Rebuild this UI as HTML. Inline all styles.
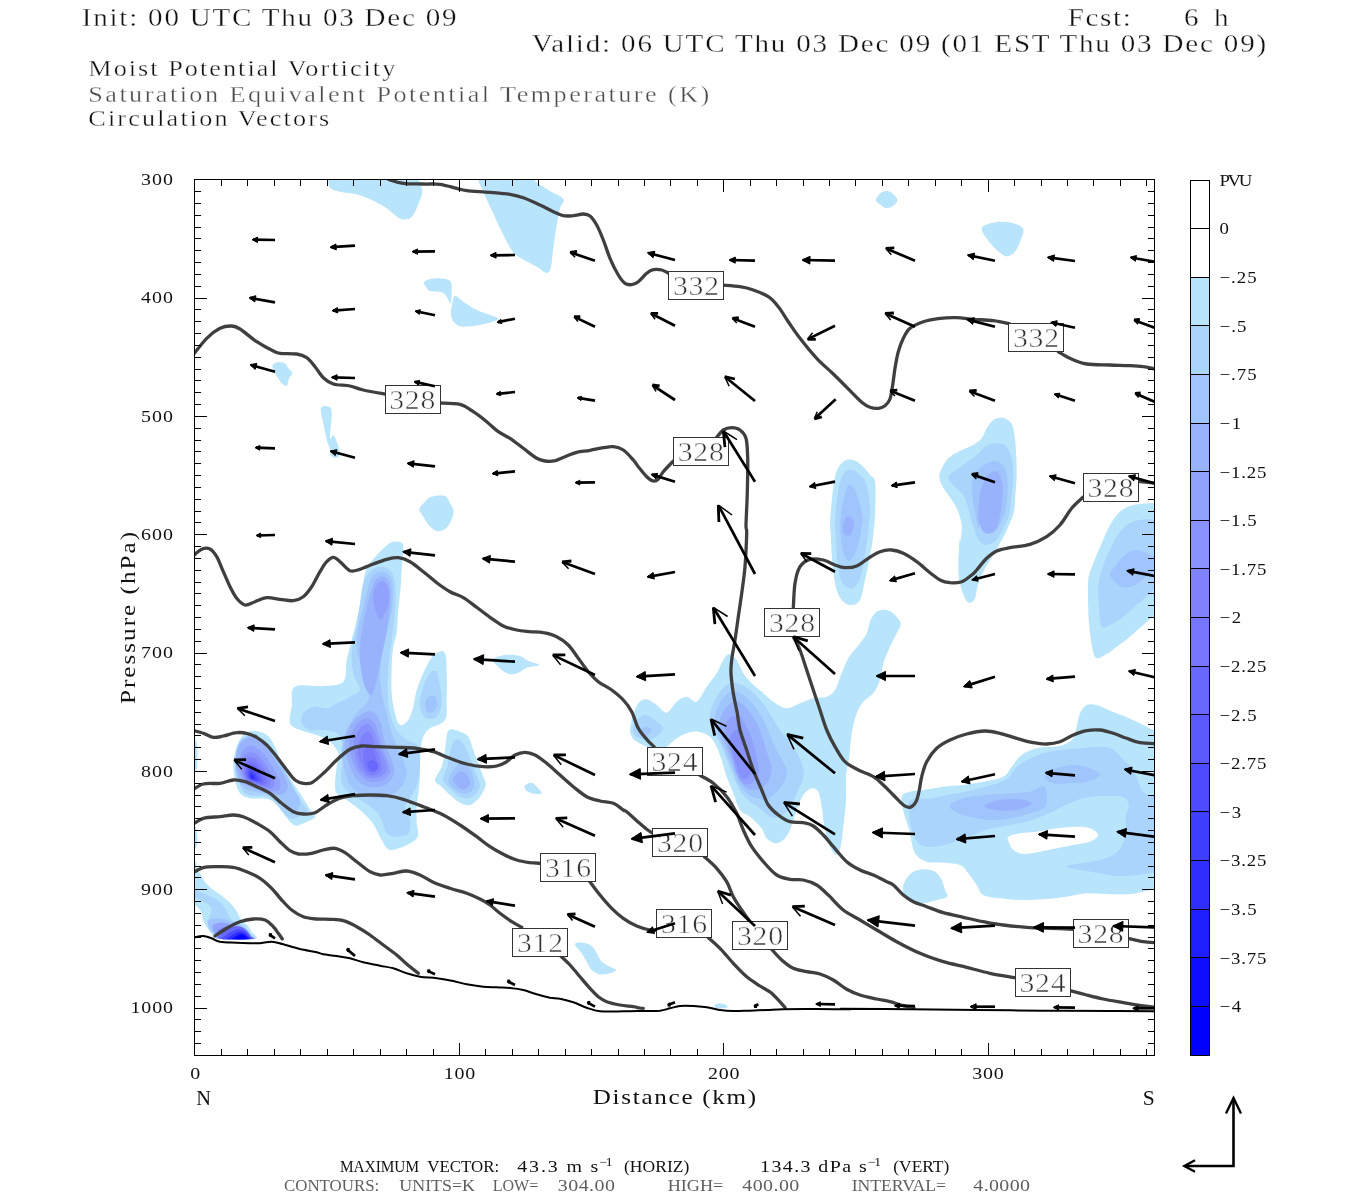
<!DOCTYPE html>
<html><head><meta charset="utf-8"><title>Cross section</title>
<style>html,body{margin:0;padding:0;background:#fff}body{width:1350px;height:1200px;overflow:hidden}svg{display:block}text{font-family:"Liberation Serif",serif;filter:grayscale(1)}.th{stroke:#fff;stroke-width:.32px}</style>
</head><body>
<svg width="1350" height="1200" viewBox="0 0 1350 1200">
<rect width="1350" height="1200" fill="#fff"/>
<defs><clipPath id="cp"><rect x="194.5" y="179.5" width="959.5" height="876"/></clipPath></defs>
<g clip-path="url(#cp)" stroke="none">
<path fill="#b8e4fc" d="M328.3 155C313.3 158.6 328.1 171.2 328.3 176.7C328.6 182.1 328.1 185.2 330 187.7C331.9 190.2 335.6 190.6 340 191.7C344.4 192.8 351.4 192.9 356.7 194.3C361.9 195.7 366.7 197.7 371.7 200C376.7 202.3 382.2 205.4 386.7 208.3C391.1 211.3 395 215.8 398.3 217.7C401.7 219.5 404.2 219.8 406.7 219.3C409.2 218.9 411.1 218.2 413.3 215C415.6 211.8 418.5 203.9 420 200C421.5 196.1 422.2 194.2 422.3 191.7C422.4 189.2 421.3 187.5 420.7 185C420 182.5 418.7 181.7 418.3 176.7C417.9 171.7 433.3 158.6 418.3 155C403.3 151.4 343.3 151.4 328.3 155Z"/>
<path fill="#b8e4fc" d="M476.7 155C467.9 158.6 476.2 170.6 477.3 176.7C478.4 182.8 480.9 186.1 483.3 191.7C485.7 197.2 488.6 203.3 491.7 210C494.7 216.7 498.3 225 501.7 231.7C505 238.3 508.9 245.8 511.7 250C514.4 254.2 514.2 253.9 518.3 256.7C522.5 259.4 532.1 264 536.7 266.7C541.3 269.3 543.7 272.4 546 272.7C548.3 272.9 549.4 272.4 550.7 268.3C551.9 264.3 552.3 255.6 553.3 248.3C554.3 241.1 555.6 231.7 556.7 225C557.8 218.3 558.9 212.7 560 208.3C561.1 204 565.3 202.1 563.3 199C561.4 195.9 553.6 193.7 548.3 190C543.1 186.3 534.7 182.5 531.7 176.7C528.6 170.8 539.2 158.6 530 155C520.8 151.4 485.4 151.4 476.7 155Z"/>
<path fill="#b8e4fc" d="M424 282.3C424.7 281.1 427.3 279.7 430 279C432.7 278.3 436.7 278 440 278.3C443.3 278.7 448.1 279.3 450 281C451.9 282.7 451.6 284.6 451.7 288.3C451.8 292.1 451.5 301.9 450.7 303.3C449.8 304.7 448.2 298.5 446.7 296.7C445.2 294.8 444.4 293.3 441.7 292.3C438.9 291.4 432.6 291.9 430 291C427.4 290.1 427 288.1 426 286.7C425 285.2 423.3 283.6 424 282.3Z"/>
<path fill="#b8e4fc" d="M455 295.7C456.8 295.4 459.7 299.3 463.3 301.7C466.9 304.1 472.2 307.8 476.7 310C481.1 312.2 486.4 313.5 490 315C493.6 316.5 499.4 317.4 498.3 319C497.2 320.6 489.2 323.1 483.3 324.3C477.5 325.6 468.1 326.8 463.3 326.7C458.6 326.5 457.1 325.3 455 323.3C452.9 321.4 451.4 318.3 451 315C450.6 311.7 451.7 306.6 452.3 303.3C453 300.1 453.2 295.9 455 295.7Z"/>
<path fill="#b8e4fc" d="M272.7 365C273.4 363.4 276.3 362.6 278.3 362.3C280.4 362.1 283.3 362.3 285 363.3C286.7 364.3 287.1 366.7 288.3 368.3C289.6 370 292.2 371.7 292.3 373.3C292.4 375 289.9 376.3 289 378.3C288.1 380.4 287.9 384.8 286.7 385.7C285.4 386.5 283.2 384.8 281.7 383.3C280.1 381.8 278.6 378.6 277.3 376.7C276.1 374.7 274.8 373.6 274 371.7C273.2 369.7 271.9 366.6 272.7 365Z"/>
<path fill="#b8e4fc" d="M321 407.7C322.1 405 328.2 406.1 330 407.3C331.8 408.6 331.7 409.8 331.7 415C331.7 420.2 329.7 435 330 438.3C330.3 441.7 332.2 434.4 333.3 435C334.4 435.6 335.6 438.6 336.7 441.7C337.8 444.7 340 450.7 340 453.3C340 456 338.2 457.3 336.7 457.7C335.1 458.1 331.8 457.2 330.7 455.7C329.6 454.1 330.6 450.7 330 448.3C329.4 446 328.4 445.8 327.3 441.7C326.2 437.5 324.4 429 323.3 423.3C322.3 417.7 319.9 410.3 321 407.7Z"/>
<path fill="#b8e4fc" d="M419.3 509.3C419.6 506.8 422.9 503.8 425 501.7C427.1 499.6 428.3 497.6 431.7 496.7C435 495.7 441.9 494.9 445 496C448.1 497.1 448.6 500.8 450 503.3C451.4 505.8 453.6 507.9 453.7 511C453.8 514.1 452.1 518.7 450.7 521.7C449.2 524.7 447.3 527.4 445 529C442.7 530.6 439.3 531.6 436.7 531C434.1 530.4 431.6 528.1 429.3 525.7C427.1 523.3 425 519.4 423.3 516.7C421.7 513.9 419.1 511.8 419.3 509.3Z"/>
<path fill="#b8e4fc" d="M876 200C876.3 198 879.3 193.7 881.7 192.3C884 190.9 887.4 190.4 890 191.7C892.6 192.9 897.1 197.5 897.3 200C897.6 202.5 893.7 205.4 891.7 206.7C889.6 207.9 886.9 208.1 885 207.7C883.1 207.3 881.5 205.6 880 204.3C878.5 203.1 875.7 202 876 200Z"/>
<path fill="#b8e4fc" d="M981.7 228.3C982.2 225.8 986.7 224.4 990 223.3C993.3 222.2 997.8 221.7 1001.7 221.7C1005.6 221.7 1009.7 222.1 1013.3 223.3C1016.9 224.6 1022.2 225.9 1023.3 229C1024.4 232.1 1021.4 237.9 1020 241.7C1018.6 245.4 1016.9 249.3 1015 251.7C1013.1 254.1 1010.3 255.4 1008.3 256C1006.4 256.6 1005.8 256.6 1003.3 255C1000.8 253.4 996.1 249.4 993.3 246.7C990.6 243.9 988.6 241.4 986.7 238.3C984.7 235.3 981.1 230.8 981.7 228.3Z"/>
<path fill="#b8e4fc" d="M830 525C830.2 519.7 830.8 509.7 831.7 501.7C832.5 493.6 833.6 482.8 835 476.7C836.4 470.6 838.1 467.8 840 465C841.9 462.2 844.2 460.7 846.7 460C849.2 459.3 852.2 459.6 855 460.7C857.8 461.8 860.8 464.3 863.3 466.7C865.8 469.1 868.1 472.5 870 475C871.9 477.5 874.1 476.1 875 481.7C875.9 487.2 875.4 501.9 875.3 508.3C875.3 514.7 875.1 514.7 874.7 520C874.2 525.3 873.6 533.3 872.7 540C871.8 546.7 870.6 553.3 869.3 560C868.1 566.7 866.6 573.3 865 580C863.4 586.7 862.2 595.8 860 600C857.8 604.2 854.4 604.7 851.7 605C848.9 605.3 845.8 604.2 843.3 601.7C840.8 599.2 838.4 595.8 836.7 590C834.9 584.2 833.7 576.1 832.7 566.7C831.7 557.2 831.1 540.3 830.7 533.3C830.2 526.4 829.8 530.3 830 525Z"/>
<path fill="#aad4fc" d="M835 525C835.2 519.7 835.8 508.9 836.7 501.7C837.5 494.4 838.6 486.7 840 481.7C841.4 476.7 843.1 473.6 845 471.7C846.9 469.7 849.2 469.4 851.7 470C854.2 470.6 857.5 472.5 860 475C862.5 477.5 865 479.4 866.7 485C868.3 490.6 869.6 502.5 870 508.3C870.4 514.2 869.8 514.7 869.3 520C868.9 525.3 868.2 533.3 867.3 540C866.4 546.7 865.2 553.6 864 560C862.8 566.4 861.7 573.8 860 578.3C858.3 582.9 856.2 585.8 854 587.3C851.8 588.8 848.9 588.7 846.7 587.3C844.4 586 842.2 583.9 840.7 579.3C839.1 574.8 838.2 567.7 837.3 560C836.5 552.3 836.1 539.2 835.7 533.3C835.3 527.5 834.8 530.3 835 525Z"/>
<path fill="#a0c4fc" d="M840 525C840.4 522.5 841.2 511.1 842.3 505C843.4 498.9 845.4 491.7 846.7 488.3C847.9 485 848.6 484.7 850 485C851.4 485.3 853.3 486.7 855 490C856.7 493.3 858.6 499.7 860 505C861.4 510.3 862.9 519.2 863.3 521.7C863.8 524.2 863.2 517.5 862.7 520C862.1 522.5 861.3 531.1 860 536.7C858.7 542.2 856.8 549.3 855 553.3C853.2 557.3 851.2 560.4 849.3 560.7C847.5 560.9 845.3 558.4 844 555C842.7 551.6 842 545.8 841.3 540C840.7 534.2 840.2 522.5 840 520C839.8 517.5 839.6 527.5 840 525Z"/>
<path fill="#98b2fc" d="M843.3 523.3C843.9 521.3 845.3 517.5 846.7 516.7C848.1 515.8 850.4 516.9 851.7 518.3C852.9 519.7 854.2 522.3 854 525C853.8 527.7 852.2 532.7 850.7 534.3C849.2 536 846.3 535.9 845 535C843.7 534.1 843.3 530.9 843 529C842.7 527.1 842.7 525.4 843.3 523.3Z"/>
<path fill="#b8e4fc" d="M939.3 476.7C939.3 473.9 940.2 471.4 941.7 468.3C943.2 465.3 945.6 461.1 948.3 458.3C951.1 455.6 954.2 453.9 958.3 451.7C962.5 449.4 969.4 447.2 973.3 445C977.2 442.8 979.4 441.1 981.7 438.3C983.9 435.6 984.7 431.4 986.7 428.3C988.6 425.3 990.8 421.8 993.3 420C995.8 418.2 998.9 417.4 1001.7 417.7C1004.4 417.9 1007.9 419.3 1010 421.7C1012.1 424 1013 426.7 1014 431.7C1015 436.7 1015.6 444.4 1016 451.7C1016.4 458.9 1016.8 467.8 1016.7 475C1016.6 482.2 1015.8 488.9 1015.3 495C1014.9 501.1 1015.2 506.4 1014 511.7C1012.8 516.9 1010.4 521.9 1008.3 526.7C1006.3 531.4 1004.2 535.3 1001.7 540C999.2 544.7 996.1 550.3 993.3 555C990.6 559.7 987.5 563.6 985 568.3C982.5 573.1 980 578.3 978.3 583.3C976.7 588.3 976.4 595.1 975 598.3C973.6 601.6 971.7 602.7 970 602.7C968.3 602.7 966.7 601.6 965 598.3C963.3 595.1 961.1 588.6 960 583.3C958.9 578.1 958.4 573.9 958.3 566.7C958.2 559.4 959.3 547.2 959.3 540C959.3 532.8 958.2 523.1 958.3 523.3C958.4 523.6 959.4 541.4 960 541.7C960.6 541.9 962.2 530.6 961.7 525C961.1 519.4 958.9 513.3 956.7 508.3C954.4 503.3 950.8 498.9 948.3 495C945.8 491.1 943.2 488.1 941.7 485C940.2 481.9 939.3 479.4 939.3 476.7Z"/>
<path fill="#aad4fc" d="M948.3 478.3C947.8 476.1 949.2 475.6 951.7 473.3C954.2 471.1 959.2 468.1 963.3 465C967.5 461.9 972.8 458.2 976.7 455C980.6 451.8 983.1 447.6 986.7 445.7C990.3 443.7 995 443.2 998.3 443.3C1001.7 443.5 1004.4 444.2 1006.7 446.7C1008.9 449.2 1010.6 453.6 1011.7 458.3C1012.8 463.1 1013.3 468.9 1013.3 475C1013.3 481.1 1012.4 488.3 1011.7 495C1010.9 501.7 1010.4 509.4 1009 515C1007.6 520.6 1005.4 524.2 1003.3 528.3C1001.3 532.5 999.4 537.2 996.7 540C993.9 542.8 989.7 545 986.7 545C983.6 545 980.6 543.3 978.3 540C976.1 536.7 974.3 527.5 973.3 525C972.3 522.5 973.2 527.8 972.3 525C971.5 522.2 969.8 513.3 968.3 508.3C966.8 503.3 965.6 498.6 963.3 495C961.1 491.4 957.5 489.4 955 486.7C952.5 483.9 948.9 480.6 948.3 478.3Z"/>
<path fill="#a0c4fc" d="M971.7 490C971.4 484.4 972.2 481.7 973.3 478.3C974.4 475 976.1 472.5 978.3 470C980.6 467.5 983.9 464.8 986.7 463.3C989.4 461.8 992.3 460.7 995 461C997.7 461.3 1000.7 462.7 1002.7 465C1004.6 467.3 1005.8 470.6 1006.7 475C1007.5 479.4 1007.9 485.6 1007.7 491.7C1007.4 497.8 1006.6 505.7 1005 511.7C1003.4 517.6 1000.6 523.7 998.3 527.3C996.1 530.9 993.9 532.9 991.7 533.3C989.4 533.8 986.8 532.5 985 530C983.2 527.5 981.8 518.6 980.7 518.3C979.6 518.1 979.3 529.4 978.3 528.3C977.4 527.2 976.1 518.1 975 511.7C973.9 505.3 971.9 495.6 971.7 490Z"/>
<path fill="#98b2fc" d="M978.3 511.7C978.4 506.9 979.2 500 980 495C980.8 490 981.7 485.3 983.3 481.7C985 478.1 987.8 475 990 473.3C992.2 471.7 994.7 470.6 996.7 471.7C998.6 472.8 1000.7 476.1 1001.7 480C1002.7 483.9 1002.9 489.2 1002.7 495C1002.4 500.8 1001 509.4 1000 515C999 520.6 998.3 525.3 996.7 528.3C995 531.4 992.2 532.8 990 533.3C987.8 533.9 985.1 533.3 983.3 531.7C981.6 530 980.2 526.7 979.3 523.3C978.5 520 978.2 516.4 978.3 511.7Z"/>
<path fill="#b8e4fc" d="M1193.3 502.7C1187.5 484.2 1168.3 502.3 1158.3 502.7C1148.3 503.1 1139.7 503.5 1133.3 505C1126.9 506.5 1123.9 508.3 1120 511.7C1116.1 515 1113.1 519.7 1110 525C1106.9 530.3 1104.4 536.9 1101.7 543.3C1098.9 549.7 1095.6 557.2 1093.3 563.3C1091.1 569.4 1089.2 572.2 1088.3 580C1087.5 587.8 1088.1 601.1 1088.3 610C1088.6 618.9 1088.9 625.6 1090 633.3C1091.1 641.1 1092.5 653.1 1095 656.7C1097.5 660.3 1101.4 656.7 1105 655C1108.6 653.3 1112.5 649.7 1116.7 646.7C1120.8 643.6 1125.6 640.3 1130 636.7C1134.4 633.1 1138.6 628.6 1143.3 625C1148.1 621.4 1150 616.9 1158.3 615C1166.7 613.1 1187.5 632.1 1193.3 613.3C1199.2 594.6 1199.2 521.1 1193.3 502.7Z"/>
<path fill="#aad4fc" d="M1193.3 519.3C1187.5 508.1 1167.2 519.2 1158.3 519.3C1149.4 519.4 1145.3 519.1 1140 520C1134.7 520.9 1130.6 522.2 1126.7 525C1122.8 527.8 1119.7 531.9 1116.7 536.7C1113.6 541.4 1110.8 547.8 1108.3 553.3C1105.8 558.9 1103.3 564.4 1101.7 570C1100 575.6 1098.7 580 1098.3 586.7C1097.9 593.3 1098.8 603.3 1099.3 610C1099.9 616.7 1099.9 624.2 1101.7 626.7C1103.4 629.2 1106.4 626.7 1110 625C1113.6 623.3 1118.9 620 1123.3 616.7C1127.8 613.3 1132.5 608.6 1136.7 605C1140.8 601.4 1144.7 597.8 1148.3 595C1151.9 592.2 1150.8 589.7 1158.3 588.3C1165.8 586.9 1187.5 598.2 1193.3 586.7C1199.2 575.2 1199.2 530.6 1193.3 519.3Z"/>
<path fill="#a0c4fc" d="M1193.3 556.7C1187.5 554.7 1166.7 557.5 1158.3 556.7C1150 555.8 1147.5 552.8 1143.3 551.7C1139.2 550.6 1136.7 549.2 1133.3 550C1130 550.8 1126.4 553.9 1123.3 556.7C1120.3 559.4 1117.2 563.6 1115 566.7C1112.8 569.7 1109.4 571.9 1110 575C1110.6 578.1 1115.3 582.9 1118.3 585C1121.4 587.1 1124.7 587.9 1128.3 587.3C1131.9 586.8 1136.4 583.9 1140 581.7C1143.6 579.4 1146.9 576.1 1150 574C1153.1 571.9 1151.1 570.3 1158.3 569.3C1165.6 568.4 1187.5 570.4 1193.3 568.3C1199.2 566.2 1199.2 558.6 1193.3 556.7Z"/>
<path fill="#b8e4fc" d="M370 563.3C372.5 559.7 376.4 555.2 380 551.7C383.6 548.2 388.1 543.8 391.7 542.3C395.3 540.8 399.7 541.4 401.7 542.7C403.6 543.9 403.3 546 403.3 550C403.3 554 402.1 560.6 401.7 566.7C401.2 572.8 401.2 579.4 400.7 586.7C400.1 593.9 399 602.2 398.3 610C397.7 617.8 397.5 627.2 396.7 633.3C395.8 639.4 394.2 641.1 393.3 646.7C392.5 652.2 391.9 658.9 391.7 666.7C391.4 674.4 391.1 685.6 391.7 693.3C392.2 701.1 393.6 708.1 395 713.3C396.4 718.6 397.8 723.9 400 725C402.2 726.1 406.1 723.1 408.3 720C410.6 716.9 411.9 711.7 413.3 706.7C414.7 701.7 415 695.6 416.7 690C418.3 684.4 421.1 678.3 423.3 673.3C425.6 668.3 427.8 663.4 430 660C432.2 656.6 434.2 653.8 436.7 652.7C439.2 651.6 443.3 649.9 445 653.3C446.7 656.8 446.4 665.6 446.7 673.3C446.9 681.1 446.9 692.2 446.7 700C446.4 707.8 447.8 715.3 445 720C442.2 724.7 433.6 725.6 430 728.3C426.4 731.1 425 732.5 423.3 736.7C421.7 740.8 420.6 746.7 420 753.3C419.4 760 420.3 770 420 776.7C419.7 783.3 418.9 788.3 418.3 793.3C417.8 798.3 416.9 801.7 416.7 806.7C416.4 811.7 416.5 818.3 416.7 823.3C416.8 828.3 419.3 833.1 417.7 836.7C416 840.3 411.3 842.8 406.7 845C402.1 847.2 394.2 850.8 390 850C385.8 849.2 383.9 843.3 381.7 840C379.4 836.7 378.3 833.1 376.7 830C375 826.9 374.4 825 371.7 821.7C368.9 818.3 364.2 813.6 360 810C355.8 806.4 350.6 802.8 346.7 800C342.8 797.2 338.6 796.1 336.7 793.3C334.7 790.6 335 787.8 335 783.3C335 778.9 336.1 771.7 336.7 766.7C337.2 761.7 339.4 757.5 338.3 753.3C337.2 749.2 333.6 744.7 330 741.7C326.4 738.6 321.7 736.9 316.7 735C311.7 733.1 304.4 731.9 300 730C295.6 728.1 291.4 727.2 290 723.3C288.6 719.4 290.8 712.8 291.7 706.7C292.5 700.6 289.7 690.1 295 686.7C300.3 683.2 315.3 686.8 323.3 686C331.4 685.2 339.4 686 343.3 681.7C347.2 677.3 345.3 666.9 346.7 660C348.1 653.1 350 646.7 351.7 640C353.3 633.3 355 627.2 356.7 620C358.3 612.8 360.3 604.4 361.7 596.7C363.1 588.9 363.6 578.9 365 573.3C366.4 567.8 367.5 566.9 370 563.3Z"/>
<path fill="#aad4fc" d="M363.3 583.3C365 578.1 367.2 574.4 370 571.7C372.8 568.9 376.7 566.9 380 566.7C383.3 566.4 387.5 567.2 390 570C392.5 572.8 394.2 576.7 395 583.3C395.8 590 395.6 600.6 395 610C394.4 619.4 392.8 630.6 391.7 640C390.6 649.4 389 657.8 388.3 666.7C387.7 675.6 387.4 685.6 387.7 693.3C387.9 701.1 388.5 707.2 390 713.3C391.5 719.4 393.9 725.6 396.7 730C399.4 734.4 402.9 736.9 406.7 740C410.4 743.1 417.3 742.2 419.3 748.3C421.3 754.4 419.7 769.2 418.7 776.7C417.7 784.2 415.6 788.3 413.3 793.3C411.1 798.3 405.6 802.2 405 806.7C404.4 811.1 409.4 815.6 410 820C410.6 824.4 410.6 830.6 408.3 833.3C406.1 836.1 400.3 836.7 396.7 836.7C393.1 836.7 389.2 836.1 386.7 833.3C384.2 830.6 383.3 823.6 381.7 820C380 816.4 379.7 814.7 376.7 811.7C373.6 808.6 367.8 804.7 363.3 801.7C358.9 798.6 353.6 796.4 350 793.3C346.4 790.3 343.1 787.8 341.7 783.3C340.3 778.9 341.1 772.2 341.7 766.7C342.2 761.1 345.8 755.6 345 750C344.2 744.4 340.3 736.7 336.7 733.3C333.1 730 327.8 730.6 323.3 730C318.9 729.4 313.6 731.1 310 730C306.4 728.9 302.8 726.1 301.7 723.3C300.6 720.6 301.4 716.1 303.3 713.3C305.3 710.6 309.4 707.5 313.3 706.7C317.2 705.8 322.8 708.9 326.7 708.3C330.6 707.8 332.8 705.3 336.7 703.3C340.6 701.4 346.1 698.9 350 696.7C353.9 694.4 359.4 693.9 360 690C360.6 686.1 354.7 680 353.3 673.3C351.9 666.7 351.1 657.8 351.7 650C352.2 642.2 355.3 634.4 356.7 626.7C358.1 618.9 358.9 610.6 360 603.3C361.1 596.1 361.7 588.6 363.3 583.3Z"/>
<path fill="#aad4fc" d="M420 700C420.4 696.1 421.7 691.1 423.3 686.7C425 682.2 427.8 675.8 430 673.3C432.2 670.8 435 669.4 436.7 671.7C438.3 673.9 439.2 681.4 440 686.7C440.8 691.9 442.2 698.3 441.7 703.3C441.1 708.3 439.2 714.2 436.7 716.7C434.2 719.2 429.3 719.4 426.7 718.3C424 717.2 421.8 713.1 420.7 710C419.6 706.9 419.6 703.9 420 700Z"/>
<path fill="#a0c4fc" d="M425 703.3C425.2 700.8 426.7 697.8 428.3 696.7C430 695.6 433.5 695.3 435 696.7C436.5 698.1 437.6 702.5 437.3 705C437.1 707.5 435 710.6 433.3 711.7C431.7 712.8 428.7 713.1 427.3 711.7C425.9 710.3 424.8 705.8 425 703.3Z"/>
<path fill="#a0c4fc" d="M368.3 586.7C370 581.4 371.1 577.5 373.3 575C375.6 572.5 379 571.7 381.7 571.7C384.3 571.7 387.5 572.5 389.3 575C391.2 577.5 392.3 580.8 392.7 586.7C393.1 592.5 392.7 602.2 391.7 610C390.7 617.8 388.2 626.7 386.7 633.3C385.2 640 383.8 643.9 382.7 650C381.6 656.1 380.2 662.8 380 670C379.8 677.2 380.6 686.1 381.7 693.3C382.8 700.6 385 706.7 386.7 713.3C388.3 720 389.4 726.7 391.7 733.3C393.9 740 397.5 746.7 400 753.3C402.5 760 406.9 767.2 406.7 773.3C406.4 779.4 402.5 785.8 398.3 790C394.2 794.2 387.5 797.5 381.7 798.3C375.8 799.2 368.6 797.2 363.3 795C358.1 792.8 353.2 789.7 350 785C346.8 780.3 345.4 772.5 344 766.7C342.6 760.8 341.2 756.1 341.7 750C342.1 743.9 344.2 736.1 346.7 730C349.2 723.9 353.1 718.3 356.7 713.3C360.3 708.3 366.4 705 368.3 700C370.3 695 369.4 688.9 368.3 683.3C367.2 677.8 363.6 672.8 361.7 666.7C359.7 660.6 357.2 653.3 356.7 646.7C356.1 640 357.2 633.3 358.3 626.7C359.4 620 361.7 613.3 363.3 606.7C365 600 366.7 591.9 368.3 586.7Z"/>
<path fill="#98b2fc" d="M371.7 590C373.2 585.4 374.1 581.6 376 579.3C377.9 577.1 381.1 576 383.3 576.7C385.6 577.3 388.1 579.4 389.3 583.3C390.6 587.2 390.8 593.9 390.7 600C390.5 606.1 389.3 613.3 388.3 620C387.4 626.7 386.3 633.3 385 640C383.7 646.7 382.1 653.3 380.7 660C379.3 666.7 378.2 674.2 376.7 680C375.2 685.8 373.6 693.9 371.7 695C369.7 696.1 366.8 691.4 365 686.7C363.2 681.9 361.5 673.3 360.7 666.7C359.8 660 359.7 653.3 360 646.7C360.3 640 361.6 633.3 362.7 626.7C363.8 620 365.2 612.8 366.7 606.7C368.2 600.6 370.1 594.6 371.7 590Z"/>
<path fill="#90a2fc" d="M374 591.7C374.8 588.8 376.7 584.3 378.3 582.7C380 581 382.3 580.7 384 581.7C385.7 582.6 387.6 585 388.3 588.3C389.1 591.7 389.2 597.5 388.7 601.7C388.1 605.8 386.4 610.4 385 613.3C383.6 616.3 381.6 619.9 380 619.3C378.4 618.8 376.4 613.2 375.3 610C374.2 606.8 373.6 603.1 373.3 600C373.1 596.9 373.2 594.6 374 591.7Z"/>
<path fill="#98b2fc" d="M345 740C345.8 734.4 348.6 727.8 351.7 723.3C354.7 718.9 359.7 715.3 363.3 713.3C366.9 711.4 370.4 710 373.3 711.7C376.2 713.3 378.7 718.1 380.7 723.3C382.6 728.6 383.2 737.2 385 743.3C386.8 749.4 390.2 755 391.7 760C393.2 765 394.8 769.3 394 773.3C393.2 777.3 390.1 781.7 386.7 784C383.2 786.3 377.8 787.6 373.3 787.3C368.9 787.1 363.6 785.4 360 782.7C356.4 779.9 353.9 775 351.7 770.7C349.4 766.3 347.8 761.8 346.7 756.7C345.6 751.6 344.2 745.6 345 740Z"/>
<path fill="#90a2fc" d="M349.3 740C350.3 735.6 353.3 728.6 356 725C358.7 721.4 362.7 718.9 365.7 718.3C368.7 717.8 371.7 718.6 374 721.7C376.3 724.7 377.7 731.7 379.3 736.7C381 741.7 382.3 746.9 384 751.7C385.7 756.4 388.4 761.3 389.3 765C390.2 768.7 390.6 771.4 389.3 774C388.1 776.6 384.9 779.4 381.7 780.7C378.4 781.9 373.6 782.6 370 781.7C366.4 780.7 362.8 778.1 360 775C357.2 771.9 355 767.2 353.3 763.3C351.7 759.4 350.7 755.6 350 751.7C349.3 747.8 348.3 744.4 349.3 740Z"/>
<path fill="#8892fc" d="M354 740.7C354.8 735.9 357.6 731.1 360 728.3C362.4 725.6 365.8 723.2 368.3 724C370.8 724.8 373.1 729.3 375 733.3C376.9 737.4 378.2 743.3 380 748.3C381.8 753.3 385 759.4 386 763.3C387 767.2 387.3 769.3 386 771.7C384.7 774 381.3 776.4 378.3 777.3C375.4 778.3 371.4 778.6 368.3 777.3C365.3 776.1 362.2 773.4 360 770C357.8 766.6 356.3 761.6 355.3 756.7C354.3 751.8 353.2 745.4 354 740.7Z"/>
<path fill="#8082fc" d="M358.3 745C359.3 741.4 361.9 735.3 364 733.3C366.1 731.4 368.7 730.8 370.7 733.3C372.7 735.8 374.2 743.3 376 748.3C377.8 753.3 380.6 759.4 381.3 763.3C382.1 767.2 381.7 769.7 380.7 771.7C379.6 773.6 377.2 774.6 375 775C372.8 775.4 369.6 775.7 367.3 774C365.1 772.3 363.2 768.2 361.7 765C360.2 761.8 358.9 758.3 358.3 755C357.8 751.7 357.4 748.6 358.3 745Z"/>
<path fill="#7676fc" d="M363.3 753.3C364.1 750.3 366.7 743.9 368.3 743.3C370 742.8 371.8 746.7 373.3 750C374.8 753.3 376.8 759.9 377.3 763.3C377.9 766.8 377.6 769.1 376.7 770.7C375.7 772.2 373.3 772.9 371.7 772.7C370 772.4 367.9 771.2 366.7 769.3C365.4 767.5 364.6 764.3 364 761.7C363.4 759 362.6 756.4 363.3 753.3Z"/>
<path fill="#6868fd" d="M367.3 763.3C367.8 761.7 370.8 759.7 372.7 760C374.5 760.3 377.8 763.2 378.3 765C378.9 766.8 377.4 769.8 376 770.7C374.6 771.5 371.4 771.2 370 770C368.6 768.8 366.9 765 367.3 763.3Z"/>
<path fill="#b8e4fc" d="M233.3 763.3C233.6 757.8 235 751.4 236.7 746.7C238.3 741.9 240.6 737.7 243.3 735C246.1 732.3 249.4 730.7 253.3 730.7C257.2 730.7 263.1 732.3 266.7 735C270.3 737.7 272.5 741.9 275 746.7C277.5 751.4 279.2 758.1 281.7 763.3C284.2 768.6 286.9 773.3 290 778.3C293.1 783.3 296.9 788.6 300 793.3C303.1 798.1 305.8 802.8 308.3 806.7C310.8 810.6 315.3 814.2 315 816.7C314.7 819.2 309.7 820.2 306.7 821.7C303.6 823.2 299.4 825.7 296.7 825.7C293.9 825.7 292.2 823.7 290 821.7C287.8 819.6 286.1 816.7 283.3 813.3C280.6 810 276.7 804.2 273.3 801.7C270 799.2 267.2 798.9 263.3 798.3C259.4 797.8 253.9 799.2 250 798.3C246.1 797.5 242.5 796.4 240 793.3C237.5 790.3 236.1 785 235 780C233.9 775 233.1 768.9 233.3 763.3Z"/>
<path fill="#aad4fc" d="M237.3 765.5C237.6 760.7 238.8 755.3 240.2 751.2C241.6 747.1 243.6 743.5 245.9 741.2C248.3 738.9 251.2 737.4 254.5 737.4C257.9 737.4 262.9 738.9 266 741.2C269.1 743.5 271 747.1 273.2 751.2C275.3 755.3 276.8 761 278.9 765.5C281.1 770.1 283.5 774.1 286.1 778.4C288.7 782.7 292.1 787.3 294.7 791.3C297.3 795.4 299.7 799.4 301.8 802.8C304 806.1 307.8 809.2 307.6 811.4C307.3 813.5 303 814.4 300.4 815.7C297.8 817 294.2 819.1 291.8 819.1C289.4 819.1 288 817.5 286.1 815.7C284.2 813.9 282.7 811.4 280.3 808.5C278 805.7 274.6 800.6 271.7 798.5C268.9 796.3 266.5 796.1 263.1 795.6C259.8 795.1 255 796.3 251.7 795.6C248.3 794.9 245.2 794 243.1 791.3C240.9 788.7 239.7 784.2 238.8 779.9C237.8 775.6 237.1 770.3 237.3 765.5Z"/>
<path fill="#a0c4fc" d="M235.6 755.7C236.1 751.2 236.9 747 238.6 743.9C240.3 740.7 242.7 738 245.7 736.7C248.7 735.5 253 735.2 256.4 736.1C259.7 737.1 262.7 739.4 265.9 742.7C269 745.9 272.2 751 275.3 755.7C278.5 760.4 281.9 765.8 284.8 771.1C287.8 776.4 290.5 782.8 293.1 787.7C295.7 792.6 299.6 797 300.2 800.7C300.8 804.5 298.6 809.2 296.7 810.2C294.7 811.2 291.1 808.6 288.4 806.7C285.6 804.7 283 800.5 280.1 798.4C277.1 796.2 274.1 794.6 270.6 793.6C267 792.6 262.7 793 258.7 792.4C254.8 791.9 250 791.7 246.9 790.1C243.7 788.5 241.7 786.1 239.8 783C237.9 779.8 236.3 775.7 235.6 771.1C234.9 766.6 235.1 760.2 235.6 755.7Z"/>
<path fill="#98b2fc" d="M236.8 753.3C237.6 749.8 238.9 745.2 241 742.7C243 740.1 246.3 738.2 249.3 737.9C252.2 737.6 255.8 739.1 258.7 740.9C261.7 742.7 264.3 745.3 267 748.6C269.8 751.9 272.6 756.1 275.3 760.4C278.1 764.8 281.6 770.3 283.6 774.7C285.7 779 287.8 783.4 287.8 786.5C287.8 789.7 285.7 792.3 283.6 793.6C281.6 794.9 278.3 794.6 275.3 794.2C272.4 793.8 269.4 792.2 265.9 791.3C262.3 790.3 257.7 789.6 254 788.3C250.3 787 246.6 785.8 243.9 783.6C241.3 781.3 239.3 777.9 238 774.7C236.7 771.4 236.2 767.6 236 764C235.8 760.4 236 756.9 236.8 753.3Z"/>
<path fill="#90a2fc" d="M239.8 758.2C240.4 755.3 241.4 751.7 243.1 749.7C244.8 747.6 247.4 746.1 249.7 745.9C252.1 745.6 254.9 746.8 257.3 748.2C259.7 749.7 261.7 751.8 264 754.4C266.2 757 268.4 760.4 270.6 763.9C272.8 767.4 275.6 771.8 277.2 775.3C278.9 778.7 280.5 782.2 280.5 784.7C280.5 787.3 278.9 789.4 277.2 790.4C275.6 791.5 273 791.2 270.6 790.9C268.2 790.6 265.9 789.3 263 788.5C260.2 787.7 256.4 787.2 253.5 786.2C250.6 785.1 247.6 784.2 245.5 782.4C243.3 780.6 241.8 777.9 240.7 775.3C239.7 772.7 239.3 769.6 239.1 766.7C239 763.9 239.1 761 239.8 758.2Z"/>
<path fill="#8892fc" d="M242.1 762.1C242.7 759.8 243.5 756.9 244.8 755.3C246.1 753.6 248.2 752.4 250.1 752.2C252 752 254.3 753 256.2 754.1C258.1 755.3 259.7 757 261.5 759C263.3 761.1 265 763.8 266.8 766.6C268.6 769.4 270.8 773 272.1 775.7C273.4 778.5 274.8 781.3 274.8 783.3C274.8 785.3 273.4 787 272.1 787.9C270.8 788.7 268.7 788.5 266.8 788.2C264.9 788 263 787 260.7 786.4C258.5 785.7 255.5 785.3 253.1 784.5C250.8 783.6 248.4 782.9 246.7 781.4C245 780 243.8 777.8 242.9 775.7C242.1 773.6 241.7 771.2 241.6 768.9C241.5 766.6 241.6 764.4 242.1 762.1Z"/>
<path fill="#8082fc" d="M243.9 765C244.4 763.1 245 760.8 246.1 759.4C247.2 758.1 248.9 757.1 250.4 757C251.9 756.8 253.8 757.6 255.3 758.5C256.9 759.4 258.2 760.8 259.6 762.5C261.1 764.2 262.5 766.4 264 768.7C265.4 771 267.2 773.8 268.3 776.1C269.3 778.3 270.4 780.6 270.4 782.3C270.4 783.9 269.3 785.3 268.3 785.9C267.2 786.6 265.5 786.5 264 786.3C262.4 786.1 260.9 785.2 259 784.7C257.2 784.2 254.8 783.8 252.9 783.2C251 782.5 249 781.9 247.6 780.7C246.2 779.5 245.2 777.8 244.5 776.1C243.9 774.4 243.6 772.4 243.5 770.5C243.4 768.7 243.5 766.8 243.9 765Z"/>
<path fill="#7676fc" d="M245.4 767.4C245.8 765.9 246.3 764 247.1 762.9C248 761.9 249.4 761.1 250.6 761C251.9 760.8 253.4 761.5 254.6 762.2C255.9 762.9 256.9 764.1 258.1 765.4C259.3 766.8 260.4 768.6 261.6 770.4C262.7 772.2 264.2 774.6 265.1 776.4C265.9 778.2 266.8 780 266.8 781.4C266.8 782.7 265.9 783.8 265.1 784.3C264.2 784.9 262.8 784.8 261.6 784.6C260.3 784.4 259.1 783.8 257.6 783.4C256.1 782.9 254.2 782.6 252.6 782.1C251.1 781.6 249.5 781.1 248.4 780.1C247.3 779.2 246.5 777.8 245.9 776.4C245.3 775 245.1 773.4 245.1 771.9C245 770.4 245.1 768.9 245.4 767.4Z"/>
<path fill="#6868fd" d="M246.7 769.6C247 768.4 247.4 766.9 248.1 766.1C248.8 765.2 249.9 764.6 250.8 764.5C251.8 764.4 253 764.9 254 765.5C255 766.1 255.8 767 256.7 768C257.6 769.1 258.5 770.5 259.5 772C260.4 773.4 261.5 775.2 262.2 776.7C262.9 778.1 263.6 779.5 263.6 780.6C263.6 781.6 262.9 782.5 262.2 782.9C261.5 783.3 260.4 783.2 259.5 783.1C258.5 783 257.5 782.5 256.3 782.1C255.1 781.8 253.6 781.6 252.4 781.1C251.2 780.7 250 780.3 249.1 779.6C248.2 778.8 247.6 777.7 247.1 776.7C246.7 775.6 246.5 774.3 246.5 773.1C246.4 772 246.5 770.8 246.7 769.6Z"/>
<path fill="#5a5afd" d="M247.9 771.6C248.1 770.7 248.4 769.5 249 768.9C249.5 768.2 250.3 767.8 251 767.7C251.8 767.6 252.7 768 253.4 768.4C254.1 768.9 254.8 769.6 255.5 770.4C256.2 771.2 256.9 772.2 257.6 773.3C258.2 774.4 259.1 775.8 259.6 776.9C260.1 778 260.7 779.1 260.7 779.9C260.7 780.6 260.1 781.3 259.6 781.6C259.1 782 258.3 781.9 257.6 781.8C256.8 781.7 256.1 781.3 255.2 781C254.3 780.8 253.1 780.6 252.2 780.3C251.3 780 250.4 779.7 249.7 779.1C249 778.5 248.6 777.7 248.2 776.9C247.9 776.1 247.8 775.1 247.7 774.2C247.7 773.3 247.7 772.4 247.9 771.6Z"/>
<path fill="#4c4cfe" d="M249 773.3C249.1 772.6 249.3 771.8 249.7 771.3C250.1 770.9 250.7 770.5 251.2 770.5C251.7 770.4 252.4 770.7 252.9 771C253.4 771.3 253.9 771.8 254.4 772.4C254.9 773 255.4 773.8 255.9 774.5C256.4 775.3 257 776.3 257.4 777.1C257.8 777.9 258.1 778.7 258.1 779.2C258.1 779.8 257.8 780.3 257.4 780.5C257 780.7 256.4 780.7 255.9 780.6C255.4 780.5 254.8 780.3 254.2 780.1C253.5 779.9 252.7 779.8 252.1 779.5C251.4 779.3 250.7 779.1 250.2 778.7C249.8 778.3 249.4 777.7 249.2 777.1C248.9 776.5 248.8 775.8 248.8 775.2C248.8 774.5 248.8 773.9 249 773.3Z"/>
<path fill="#3e3efe" d="M249.9 774.7C250 774.3 250.1 773.7 250.3 773.4C250.6 773.1 251 772.9 251.3 772.9C251.7 772.8 252.1 773 252.5 773.2C252.8 773.4 253.1 773.8 253.5 774.1C253.8 774.5 254.1 775 254.5 775.6C254.8 776.1 255.2 776.8 255.5 777.3C255.7 777.8 256 778.3 256 778.7C256 779.1 255.7 779.4 255.5 779.5C255.2 779.7 254.8 779.7 254.5 779.6C254.1 779.6 253.8 779.4 253.3 779.3C252.9 779.1 252.4 779.1 251.9 778.9C251.5 778.8 251 778.6 250.7 778.3C250.4 778.1 250.2 777.7 250 777.3C249.8 776.9 249.8 776.4 249.8 776C249.7 775.6 249.8 775.1 249.9 774.7Z"/>
<path fill="#2e2efe" d="M250.6 775.9C250.7 775.7 250.7 775.4 250.9 775.2C251 775 251.3 774.9 251.5 774.9C251.7 774.8 251.9 774.9 252.1 775.1C252.3 775.2 252.5 775.4 252.7 775.6C252.9 775.8 253.1 776.1 253.3 776.4C253.5 776.7 253.7 777.1 253.9 777.4C254 777.7 254.2 778 254.2 778.3C254.2 778.5 254 778.7 253.9 778.7C253.7 778.8 253.5 778.8 253.3 778.8C253.1 778.8 252.9 778.7 252.6 778.6C252.4 778.5 252.1 778.5 251.8 778.4C251.5 778.3 251.3 778.2 251.1 778C250.9 777.9 250.8 777.7 250.7 777.4C250.6 777.2 250.5 776.9 250.5 776.7C250.5 776.4 250.5 776.2 250.6 775.9Z"/>
<path fill="#b8e4fc" d="M190 738C191.1 732.5 195.2 739 196.5 742C197.8 745 197.5 751.3 197.5 756C197.5 760.7 197.8 766.8 196.5 770C195.2 773.2 191.1 780.3 190 775C188.9 769.7 188.9 743.5 190 738Z"/>
<path fill="#b8e4fc" d="M190 824C191 820.3 194.8 824.5 196 828C197.2 831.5 198 841.3 197 845C196 848.7 191.2 853.5 190 850C188.8 846.5 189 827.7 190 824Z"/>
<path fill="#b8e4fc" d="M435 780C435 776.7 440 771.7 441.7 766.7C443.3 761.7 444.1 755.6 445 750C445.9 744.4 446.2 736.8 447.3 733.3C448.4 729.9 449.6 729.6 451.7 729.3C453.8 729.1 457.2 730.4 460 731.7C462.8 732.9 466.1 733.6 468.3 736.7C470.6 739.7 471.7 745.6 473.3 750C475 754.4 476.7 758.9 478.3 763.3C480 767.8 482.1 773.1 483.3 776.7C484.6 780.3 486.2 781.7 485.7 785C485.1 788.3 482.6 793.3 480 796.7C477.4 800 473.3 804 470 805C466.7 806 463.3 804.3 460 802.7C456.7 801 453.1 797.7 450 795C446.9 792.3 444.2 789.2 441.7 786.7C439.2 784.2 435 783.3 435 780Z"/>
<path fill="#aad4fc" d="M443.3 780C442.6 776.1 446.1 771.7 447.3 766.7C448.6 761.7 449.4 754.4 450.7 750C451.9 745.6 453.2 741.4 455 740C456.8 738.6 459.4 739.4 461.7 741.7C463.9 743.9 466.4 749.2 468.3 753.3C470.3 757.5 471.7 762.2 473.3 766.7C475 771.1 477.2 776.7 478.3 780C479.4 783.3 480.6 784.2 480 786.7C479.4 789.2 476.9 793.1 475 795C473.1 796.9 470.8 798.1 468.3 798.3C465.8 798.6 462.8 798.1 460 796.7C457.2 795.3 454.4 792.8 451.7 790C448.9 787.2 444.1 783.9 443.3 780Z"/>
<path fill="#a0c4fc" d="M448.3 780C448.6 777.2 451.4 772.8 453.3 770C455.3 767.2 457.5 763.9 460 763.3C462.5 762.8 466.1 764.4 468.3 766.7C470.6 768.9 472.4 773.3 473.3 776.7C474.3 780 474.8 783.9 474 786.7C473.2 789.4 470.7 792.3 468.3 793.3C466 794.3 462.8 793.8 460 792.7C457.2 791.6 453.6 788.8 451.7 786.7C449.7 784.6 448.1 782.8 448.3 780Z"/>
<path fill="#98b2fc" d="M453.3 779.3C453.6 776.7 457.7 772.4 460 771.7C462.3 770.9 465.7 773.1 467.3 775C469 776.9 470.4 780.9 470 783.3C469.6 785.7 466.9 788.7 465 789.3C463.1 790 460.3 789 458.3 787.3C456.4 785.7 453.1 781.9 453.3 779.3Z"/>
<path fill="#b8e4fc" d="M491.7 660C492.2 658.5 496.9 656.9 500 656C503.1 655.1 506.7 654.7 510 654.7C513.3 654.7 516.9 654.9 520 656C523.1 657.1 525.2 659.5 528.3 661C531.5 662.5 539.3 663.9 539 665C538.7 666.1 530.1 666.4 526.7 667.7C523.2 668.9 521.1 671.6 518.3 672.7C515.6 673.8 512.8 674.8 510 674.3C507.2 673.9 503.9 671.6 501.7 670C499.4 668.4 498.3 666.7 496.7 665C495 663.3 491.1 661.5 491.7 660Z"/>
<path fill="#b8e4fc" d="M524.3 786.7C524.6 785.1 528.2 782.9 530 782.7C531.8 782.4 533.1 783.3 535 785C536.9 786.7 541.4 791.2 541.7 792.7C541.9 794.2 538.9 794.1 536.7 794C534.4 793.9 530.4 793.2 528.3 792C526.3 790.8 524.1 788.2 524.3 786.7Z"/>
<path fill="#b8e4fc" d="M630 730C630.2 726.7 631.3 721.1 632.7 716.7C634.1 712.2 636 706.2 638.3 703.3C640.7 700.4 643.6 699.1 646.7 699.3C649.7 699.6 653.3 702.8 656.7 705C660 707.2 663.3 713.2 666.7 712.7C670 712.1 673.3 704.3 676.7 701.7C680 699 683.3 696.7 686.7 696.7C690 696.7 693.3 703.3 696.7 701.7C700 700 703.3 691.4 706.7 686.7C710 681.9 713.9 677.8 716.7 673.3C719.4 668.9 721.2 663.2 723.3 660C725.4 656.8 727.1 654 729.3 654C731.6 654 734.3 656.8 736.7 660C739 663.2 740.8 669.4 743.3 673.3C745.8 677.2 748.6 680.3 751.7 683.3C754.7 686.4 758.1 688.6 761.7 691.7C765.3 694.7 769.2 698.9 773.3 701.7C777.5 704.4 782.2 708.1 786.7 708.3C791.1 708.6 795.6 705 800 703.3C804.4 701.7 808.9 699.4 813.3 698.3C817.8 697.2 823.1 698.1 826.7 696.7C830.3 695.3 832.5 693.9 835 690C837.5 686.1 839.4 678.6 841.7 673.3C843.9 668.1 845.3 663.3 848.3 658.3C851.4 653.3 856.9 647.5 860 643.3C863.1 639.2 864.9 637.2 866.7 633.3C868.4 629.4 869 623.6 870.7 620C872.3 616.4 874 613.3 876.7 611.7C879.3 610 883.6 609.4 886.7 610C889.7 610.6 892.7 612.7 895 615C897.3 617.3 900.4 620.9 900.7 624C900.9 627.1 898.4 629.6 896.7 633.3C894.9 637.1 892.2 641.7 890 646.7C887.8 651.7 885 657.8 883.3 663.3C881.7 668.9 881.7 675 880 680C878.3 685 876.1 689.7 873.3 693.3C870.6 696.9 866.1 698.3 863.3 701.7C860.6 705 858.6 708.1 856.7 713.3C854.7 718.6 852.9 726.1 851.7 733.3C850.4 740.6 850.3 749.4 849.3 756.7C848.4 763.9 846.6 769.4 846 776.7C845.4 783.9 846.4 791.7 846 800C845.6 808.3 844.2 818.9 843.3 826.7C842.4 834.4 841.8 841.9 840.7 846.7C839.6 851.4 838.4 855 836.7 855C834.9 855 831.9 850.8 830 846.7C828.1 842.5 826.4 836.7 825 830C823.6 823.3 822.8 813.1 821.7 806.7C820.6 800.3 820 794.7 818.3 791.7C816.7 788.6 814.2 787.8 811.7 788.3C809.2 788.9 805.8 791.4 803.3 795C800.8 798.6 798.9 804.2 796.7 810C794.4 815.8 792.2 825 790 830C787.8 835 785.8 837.8 783.3 840C780.8 842.2 777.8 843.6 775 843.3C772.2 843.1 768.9 840.8 766.7 838.3C764.4 835.8 764.4 831.9 761.7 828.3C758.9 824.7 753.6 819.7 750 816.7C746.4 813.6 742.8 813.9 740 810C737.2 806.1 735.6 798.9 733.3 793.3C731.1 787.8 728.6 782.2 726.7 776.7C724.7 771.1 723.3 765 721.7 760C720 755 718.6 750.6 716.7 746.7C714.7 742.8 713.1 739.2 710 736.7C706.9 734.2 702.2 732.2 698.3 731.7C694.4 731.1 690.3 732.2 686.7 733.3C683.1 734.4 680 736.1 676.7 738.3C673.3 740.6 670 744.7 666.7 746.7C663.3 748.6 660 750 656.7 750C653.3 750 650 748.1 646.7 746.7C643.3 745.3 639.2 743.3 636.7 741.7C634.2 740 632.8 738.6 631.7 736.7C630.6 734.7 629.8 733.3 630 730Z"/>
<path fill="#aad4fc" d="M710 713.3C711 708.9 713.9 701.4 716.7 696.7C719.4 691.9 723.3 687.2 726.7 685C730 682.8 732.8 682.5 736.7 683.3C740.6 684.2 745.8 686.9 750 690C754.2 693.1 758.1 697.2 761.7 701.7C765.3 706.1 768.6 711.9 771.7 716.7C774.7 721.4 776.4 725 780 730C783.6 735 789.7 741.1 793.3 746.7C796.9 752.2 800 758.3 801.7 763.3C803.3 768.3 804.2 771.7 803.3 776.7C802.5 781.7 798.9 788.3 796.7 793.3C794.4 798.3 792.8 802.8 790 806.7C787.2 810.6 783.3 815 780 816.7C776.7 818.3 773.3 818.1 770 816.7C766.7 815.3 763.3 810.8 760 808.3C756.7 805.8 753.1 804.2 750 801.7C746.9 799.2 744.2 796.9 741.7 793.3C739.2 789.7 737.2 785 735 780C732.8 775 730.6 768.9 728.3 763.3C726.1 757.8 723.9 751.7 721.7 746.7C719.4 741.7 716.8 737.2 715 733.3C713.2 729.4 711.5 726.7 710.7 723.3C709.8 720 709 717.8 710 713.3Z"/>
<path fill="#a0c4fc" d="M715 716.7C715.6 711.1 718.9 704.2 721.7 700C724.4 695.8 728.1 692.5 731.7 691.7C735.3 690.8 739.4 692.5 743.3 695C747.2 697.5 751.4 701.9 755 706.7C758.6 711.4 762.2 717.8 765 723.3C767.8 728.9 769.2 734.4 771.7 740C774.2 745.6 777.5 751.7 780 756.7C782.5 761.7 786.1 765.6 786.7 770C787.2 774.4 785.3 779.4 783.3 783.3C781.4 787.2 777.8 790.6 775 793.3C772.2 796.1 769.7 799.2 766.7 800C763.6 800.8 760 799.4 756.7 798.3C753.3 797.2 749.7 795.8 746.7 793.3C743.6 790.8 740.8 787.8 738.3 783.3C735.8 778.9 733.9 772.2 731.7 766.7C729.4 761.1 727.2 755.6 725 750C722.8 744.4 720 738.9 718.3 733.3C716.7 727.8 714.4 722.2 715 716.7Z"/>
<path fill="#98b2fc" d="M720 720C720.8 715.6 723.9 709.7 726.7 706.7C729.4 703.6 733.3 701.4 736.7 701.7C740 701.9 743.3 704.7 746.7 708.3C750 711.9 753.9 718.1 756.7 723.3C759.4 728.6 761.4 734.4 763.3 740C765.3 745.6 766.9 751.7 768.3 756.7C769.7 761.7 771.9 765.6 771.7 770C771.4 774.4 769.2 780 766.7 783.3C764.2 786.7 760 789.2 756.7 790C753.3 790.8 749.7 790.3 746.7 788.3C743.6 786.4 740.7 782.5 738.3 778.3C736 774.2 734.6 768.6 732.7 763.3C730.7 758.1 728.5 751.7 726.7 746.7C724.8 741.7 722.8 737.8 721.7 733.3C720.6 728.9 719.2 724.4 720 720Z"/>
<path fill="#90a2fc" d="M725 726.7C725.6 722.2 729.2 718.3 731.7 716.7C734.2 715 737.2 714.4 740 716.7C742.8 718.9 746 725 748.3 730C750.7 735 752.3 741.1 754 746.7C755.7 752.2 757.6 758.6 758.3 763.3C759.1 768.1 759.4 771.7 758.3 775C757.2 778.3 754.2 781.9 751.7 783.3C749.2 784.7 745.8 785 743.3 783.3C740.8 781.7 738.4 777.5 736.7 773.3C734.9 769.2 734.1 763.3 732.7 758.3C731.3 753.3 729.6 748.6 728.3 743.3C727.1 738.1 724.4 731.1 725 726.7Z"/>
<path fill="#8892fc" d="M730 740C730.4 736.1 733.1 731.1 735 730C736.9 728.9 739.4 730 741.7 733.3C743.9 736.7 746.7 744.4 748.3 750C750 755.6 751.7 762.2 751.7 766.7C751.7 771.1 750 774.7 748.3 776.7C746.7 778.6 743.6 780 741.7 778.3C739.7 776.7 738.2 770.8 736.7 766.7C735.2 762.5 733.8 757.8 732.7 753.3C731.6 748.9 729.6 743.9 730 740Z"/>
<path fill="#aad4fc" d="M632.7 730C632.6 727.1 634.6 722.5 636.7 720C638.7 717.5 641.9 715 645 715C648.1 715 651.9 717.8 655 720C658.1 722.2 663.1 725.6 663.3 728.3C663.6 731.1 659.4 734.7 656.7 736.7C653.9 738.6 649.9 739.9 646.7 740C643.4 740.1 639.7 739 637.3 737.3C635 735.7 632.8 732.9 632.7 730Z"/>
<path fill="#a0c4fc" d="M640.7 730C641.3 728.8 644.8 726.7 646.7 726.7C648.5 726.7 651.4 728.7 651.7 730C651.9 731.3 649.8 733.7 648.3 734.3C646.8 735 643.9 734.7 642.7 734C641.4 733.3 640 731.2 640.7 730Z"/>
<path fill="#b8e4fc" d="M901.7 796.7C902.7 793.1 906.4 792.8 910 791.7C913.6 790.6 917.8 790.8 923.3 790C928.9 789.2 936.7 787.5 943.3 786.7C950 785.8 956.7 785.8 963.3 785C970 784.2 976.7 783.1 983.3 781.7C990 780.3 998.6 779.2 1003.3 776.7C1008.1 774.2 1008.6 770.3 1011.7 766.7C1014.7 763.1 1017.5 758.1 1021.7 755C1025.8 751.9 1031.4 749.7 1036.7 748.3C1041.9 746.9 1048.9 747.2 1053.3 746.7C1057.8 746.1 1060 746.4 1063.3 745C1066.7 743.6 1071.1 741.4 1073.3 738.3C1075.6 735.3 1075.6 730.8 1076.7 726.7C1077.8 722.5 1078.3 716.9 1080 713.3C1081.7 709.7 1083.9 706.4 1086.7 705C1089.4 703.6 1092.8 704.1 1096.7 705C1100.6 705.9 1105 708.6 1110 710.7C1115 712.7 1121.1 714.9 1126.7 717.3C1132.2 719.7 1137.8 722.6 1143.3 725C1148.9 727.4 1151.7 730.3 1160 731.7C1168.3 733.1 1187.8 707.4 1193.3 733.3C1198.9 759.3 1198.9 861.5 1193.3 887.3C1187.8 913.2 1168.3 887.6 1160 888.3C1151.7 889.1 1148.3 890.7 1143.3 891.7C1138.3 892.6 1135.6 893.6 1130 894C1124.4 894.4 1117.2 894.4 1110 894.3C1102.8 894.2 1093.9 892.9 1086.7 893.3C1079.4 893.7 1073.9 895.7 1066.7 896.7C1059.4 897.7 1051.1 898.8 1043.3 899.3C1035.6 899.9 1027.2 900.2 1020 900C1012.8 899.8 1006.1 899.2 1000 898.3C993.9 897.5 987.2 897.2 983.3 895C979.4 892.8 979.2 888.6 976.7 885C974.2 881.4 971.1 876.7 968.3 873.3C965.6 870 964.2 866.8 960 865C955.8 863.2 948.9 863.2 943.3 862.7C937.8 862.1 931.4 863.2 926.7 861.7C921.9 860.1 917.8 858.1 915 853.3C912.2 848.6 910.9 837.2 910 833.3C909.1 829.4 910.3 833.3 909.3 830C908.3 826.7 905.3 818.9 904 813.3C902.7 807.8 900.7 800.3 901.7 796.7Z"/>
<path fill="#aad4fc" d="M909 812.7C908.7 809.6 907.3 806.7 908 804.4C908.7 802.2 909.2 800.3 913.2 799.3C917.2 798.2 925.3 799.1 931.9 798.2C938.4 797.4 945.7 795.5 952.6 794.1C959.5 792.7 966.1 791.7 973.3 789.9C980.6 788.2 990.3 785.8 996.1 783.7C1002 781.6 1005.1 780.2 1008.6 777.5C1012.1 774.7 1013.4 770.2 1016.9 767.1C1020.3 764 1024.5 761.2 1029.3 758.8C1034.2 756.4 1039.7 754.1 1045.9 752.6C1052.1 751 1059.8 750.3 1066.7 749.5C1073.6 748.6 1081.2 747.9 1087.4 747.4C1093.6 747 1099.5 746.3 1104 746.8C1108.5 747.3 1110.9 748.2 1114.4 750.5C1117.8 752.9 1121.6 757.8 1124.7 760.9C1127.9 764 1130.8 765.7 1133 769.2C1135.3 772.6 1136.5 777.8 1138.2 781.6C1140 785.4 1140.1 789.6 1143.4 792C1146.7 794.4 1150 795.5 1157.9 796.1C1165.9 796.8 1185.6 782.7 1191.1 796.1C1196.6 809.6 1196.6 864.2 1191.1 877C1185.6 889.8 1166.6 873.2 1157.9 872.9C1149.3 872.5 1145.8 874.4 1139.3 875C1132.7 875.5 1125.4 876.3 1118.5 876C1111.6 875.7 1104.3 873.9 1097.8 872.9C1091.2 871.9 1084.3 870.8 1079.1 869.8C1073.9 868.7 1066.7 867.7 1066.7 866.7C1066.7 865.6 1073.9 864.6 1079.1 863.6C1084.3 862.5 1091.9 862 1097.8 860.4C1103.7 858.9 1110.2 857 1114.4 854.2C1118.5 851.5 1120.8 847.7 1122.7 843.9C1124.6 840.1 1125.3 835.9 1125.8 831.4C1126.3 826.9 1125.3 821.4 1125.8 816.9C1126.3 812.4 1129.4 807.7 1128.9 804.4C1128.4 801.2 1126.8 798.6 1122.7 797.2C1118.5 795.8 1110.6 796 1104 796.1C1097.4 796.3 1089.5 796.8 1083.3 798.2C1077 799.6 1072.2 802 1066.7 804.4C1061.1 806.9 1056.3 810 1050.1 812.7C1043.9 815.5 1036.2 819 1029.3 821C1022.4 823.1 1015.5 823.8 1008.6 825.2C1001.7 826.6 994.8 827.3 987.9 829.3C980.9 831.4 973.7 835.2 967.1 837.6C960.5 840.1 954.3 842.3 948.4 843.9C942.6 845.4 936.7 847 931.9 847C927 847 922.5 846.1 919.4 843.9C916.3 841.6 914.7 836.9 913.2 833.5C911.6 830 910.8 826.6 910.1 823.1C909.4 819.7 909.4 815.9 909 812.7Z"/>
<path fill="#a0c4fc" d="M950 805C951.4 802.8 957.2 800 963.3 798.3C969.4 796.7 978.9 795.8 986.7 795C994.4 794.2 1002.8 793.9 1010 793.3C1017.2 792.8 1024.4 792.9 1030 791.7C1035.6 790.4 1040.6 785.7 1043.3 786C1046.1 786.3 1046.4 789.9 1046.7 793.3C1046.9 796.8 1047.8 803.3 1045 806.7C1042.2 810 1035.8 811.4 1030 813.3C1024.2 815.3 1016.7 817.2 1010 818.3C1003.3 819.4 996.7 820.3 990 820C983.3 819.7 975.8 818.1 970 816.7C964.2 815.3 958.3 813.6 955 811.7C951.7 809.7 948.6 807.2 950 805Z"/>
<path fill="#a0c4fc" d="M1045 776.7C1045.6 774.2 1051.9 770.3 1056.7 768.3C1061.4 766.4 1067.8 765 1073.3 765C1078.9 765 1085.6 766.7 1090 768.3C1094.4 770 1100.6 772.8 1100 775C1099.4 777.2 1091.7 780.3 1086.7 781.7C1081.7 783.1 1075.6 783.1 1070 783.3C1064.4 783.6 1057.5 784.4 1053.3 783.3C1049.2 782.2 1044.4 779.2 1045 776.7Z"/>
<path fill="#98b2fc" d="M985 805C986.9 803.6 994.2 800.9 1000 800C1005.8 799.1 1014.7 798.8 1020 799.3C1025.3 799.9 1031.7 801.7 1031.7 803.3C1031.7 805 1025.3 808.1 1020 809.3C1014.7 810.6 1005.3 810.8 1000 810.7C994.7 810.5 990.8 809.3 988.3 808.3C985.8 807.4 983.1 806.4 985 805Z"/>
<path fill="#ffffff" d="M1008.3 836.7C1010.1 835 1015.3 834.2 1020 833.3C1024.7 832.5 1030.6 832.5 1036.7 831.7C1042.8 830.8 1050 829.2 1056.7 828.3C1063.3 827.5 1071.1 826.7 1076.7 826.7C1082.2 826.7 1086.4 826.9 1090 828.3C1093.6 829.7 1098.3 832.8 1098.3 835C1098.3 837.2 1094.2 840 1090 841.7C1085.8 843.3 1078.9 843.9 1073.3 845C1067.8 846.1 1062.2 847.2 1056.7 848.3C1051.1 849.4 1045.6 850.7 1040 851.7C1034.4 852.6 1027.8 854.3 1023.3 854C1018.9 853.7 1015.7 851.8 1013.3 850C1011 848.2 1010.2 845.6 1009.3 843.3C1008.5 841.1 1006.6 838.3 1008.3 836.7Z"/>
<path fill="#b8e4fc" d="M902.7 888.3C902.7 885 904.9 881.1 906.7 878.3C908.4 875.6 910.6 873.2 913.3 871.7C916.1 870.2 919.7 869.3 923.3 869.3C926.9 869.3 931.9 869.9 935 871.7C938.1 873.4 940 876.9 941.7 880C943.3 883.1 944.1 887.2 945 890C945.9 892.8 948.7 895 947.3 896.7C945.9 898.3 940.7 898.9 936.7 900C932.7 901.1 927.2 902.8 923.3 903.3C919.4 903.9 916.1 904.2 913.3 903.3C910.6 902.5 908.4 900.8 906.7 898.3C904.9 895.8 902.7 891.7 902.7 888.3Z"/>
<path fill="#b8e4fc" d="M184.1 860.7C186 853.4 193.2 860.5 195.3 861.9C197.5 863.2 196.1 866.7 197.1 869C198.1 871.2 199.9 873.2 201.3 875.5C202.6 877.8 203.6 880.3 205.4 882.6C207.2 884.9 209.4 887 211.9 889.1C214.5 891.2 218 892.9 220.8 895C223.7 897.2 226.5 899.6 229.1 902.1C231.7 904.7 234.4 907.9 236.2 910.4C238 913 238.5 915.6 239.8 917.6C241.1 919.5 242.5 920.9 243.9 922.3C245.3 923.7 246.8 924.3 248.1 925.9C249.4 927.4 250.5 929.6 251.6 931.8C252.8 934 260.3 937.7 254.9 938.9C249.6 940.1 226.5 939.7 219.6 939.1C212.8 938.6 215.7 937.3 213.7 935.6C211.7 933.9 209.5 931.2 207.8 928.8C206 926.4 204.3 923.7 203.3 921.1C202.3 918.5 202.7 915.6 201.9 913.4C201 911.2 199.4 909.4 198.3 908.1C197.2 906.8 197.7 906.1 195.3 905.7C193 905.3 186 913.2 184.1 905.7C182.2 898.2 182.2 868 184.1 860.7Z"/>
<path fill="#aad4fc" d="M184.1 889.7C186 888.4 192.2 889.7 195.3 890.3C198.5 890.9 200.2 892.1 203 893.3C205.9 894.4 209.7 895.9 212.5 897.4C215.4 898.9 218 900.2 220.2 902.1C222.4 904.1 224.1 906.9 225.6 909.3C227 911.6 227.7 914.4 229.1 916.4C230.5 918.3 231.9 919.8 233.9 921.1C235.8 922.4 238.8 922.9 241 924.1C243.1 925.3 245.3 926.5 246.9 928.2C248.5 929.9 249.5 932.4 250.4 934.1C251.4 935.9 258 938.1 252.8 938.9C247.7 939.7 226.1 939.6 219.6 938.9C213.1 938.2 215.6 936.6 213.7 934.7C211.8 932.9 209.4 929.9 208.4 927.6C207.4 925.4 207.4 923.4 207.8 921.1C208.2 918.8 210.1 916.2 210.7 914C211.3 911.8 212 909.9 211.3 908.1C210.6 906.3 208.4 904.6 206.6 903.3C204.8 902 202.5 901.3 200.7 900.4C198.8 899.5 198.1 898.4 195.3 898C192.6 897.6 186 899.4 184.1 898C182.2 896.6 182.2 891 184.1 889.7Z"/>
<path fill="#a0c4fc" d="M207.8 921.1C208.5 919.5 211.5 919.1 213.7 918.7C215.9 918.3 218.4 918.5 220.8 918.7C223.2 918.9 225.6 919.2 227.9 919.9C230.3 920.6 232.7 921.9 235 922.9C237.4 923.9 240.2 924.6 242.1 925.9C244.1 927.1 245.6 929 246.9 930.6C248.2 932.2 249.1 934 249.9 935.3C250.6 936.7 256.6 938.3 251.6 938.9C246.7 939.5 226.4 939.6 220.2 938.9C214 938.2 216.1 936.5 214.3 934.7C212.5 933 210.6 930.5 209.6 928.2C208.5 926 207.1 922.7 207.8 921.1Z"/>
<path fill="#90a2fc" d="M212.5 925.9C213 924 216.3 923.4 218.4 922.9C220.6 922.4 223.2 922.6 225.6 922.9C227.9 923.2 230.3 924 232.7 924.7C235 925.4 237.7 926 239.8 927C241.9 928.1 243.6 929.7 245.1 931.2C246.6 932.7 247.8 934.6 248.7 935.9C249.6 937.2 255.1 938.4 250.4 938.9C245.8 939.4 226.4 939.7 220.6 938.9C214.8 938.1 216.8 936.3 215.5 934.1C214.1 932 212 927.7 212.5 925.9Z"/>
<path fill="#8082fc" d="M217.3 931.8C217.6 929.9 221 928.4 223.2 927.6C225.4 926.8 227.9 926.9 230.3 927C232.7 927.1 235.2 927.4 237.4 928.2C239.6 929 241.8 930.5 243.3 931.8C244.9 933.1 246 934.7 246.9 935.9C247.8 937.1 253.2 938.4 248.9 938.9C244.6 939.4 226.3 940.1 221.1 938.9C215.8 937.7 216.9 933.7 217.3 931.8Z"/>
<path fill="#6868fd" d="M220.3 934.9C221.4 933.3 224.6 930.7 227.2 929.3C229.8 927.9 233.1 926.7 235.7 926.4C238.4 926.2 240.8 926.9 242.9 927.7C244.9 928.6 246.5 930.2 247.8 931.7C249.2 933.1 250.4 935.3 251.2 936.5C251.9 937.7 257.6 938.5 252.6 938.9C247.5 939.3 226.2 939.6 220.8 938.9C215.4 938.2 219.3 936.5 220.3 934.9Z"/>
<path fill="#4c4cfe" d="M224.4 936.5C225.7 935.3 229.1 932.9 231.5 931.7C233.9 930.5 236.5 929.4 238.6 929.3C240.7 929.2 242.7 930 244.3 930.8C245.9 931.7 247.3 933.3 248.3 934.4C249.3 935.5 249.7 936.8 250.2 937.6C250.7 938.3 255.6 938.7 251.2 938.9C246.7 939.1 228.1 939.3 223.7 938.9C219.2 938.5 223.1 937.7 224.4 936.5Z"/>
<path fill="#2e2efe" d="M228.6 937.6C229.7 936.7 232.4 934.8 234.3 933.8C236.2 932.8 238.2 931.7 240 931.7C241.8 931.6 243.7 932.6 245 933.3C246.3 934.1 247.1 935.2 247.8 936.2C248.6 937.1 252.7 938.4 249.4 938.9C246.1 939.3 231.4 939.1 227.9 938.9C224.5 938.7 227.6 938.4 228.6 937.6Z"/>
<path fill="#0e0eff" d="M232.2 938.4C233.1 937.8 235.6 936.1 237.2 935.3C238.7 934.6 240.1 933.8 241.4 933.8C242.7 933.8 244 934.6 245 935.2C245.9 935.8 246.6 936.6 247.1 937.2C247.6 937.8 250.6 938.6 248.1 938.9C245.5 939.2 234.4 939 231.7 938.9C229.1 938.8 231.3 939 232.2 938.4Z"/>
<path fill="#0000ff" d="M235.7 938.9C234.5 938.5 238.1 937.1 239.3 936.5C240.5 935.9 241.8 935.3 242.9 935.3C243.9 935.4 244.8 936.2 245.5 936.8C246.1 937.3 248.5 938.5 246.9 938.9C245.3 939.2 237 939.3 235.7 938.9Z"/>
<path fill="#b8e4fc" d="M575 944C575.3 942.2 580.6 942.3 583.3 942.7C586.1 943 589.4 944.2 591.7 946C593.9 947.8 595 950.7 596.7 953.3C598.3 955.9 599.4 959.4 601.7 961.7C603.9 963.9 607.6 965.3 610 966.7C612.4 968.1 616 968.9 616 970C616 971.1 612.7 972.6 610 973.3C607.3 974.1 603.1 974.9 600 974.3C596.9 973.8 593.9 972.1 591.7 970C589.4 967.9 588.3 964.4 586.7 961.7C585 958.9 583.6 956.3 581.7 953.3C579.7 950.4 574.7 945.8 575 944Z"/>
<path fill="#b8e4fc" d="M715 1004.5C715.8 1003.8 719 1003.3 721 1003.5C723 1003.7 726.2 1004.8 727 1005.5C727.8 1006.2 727.8 1007.6 726 1008C724.2 1008.4 717.8 1008.6 716 1008C714.2 1007.4 714.2 1005.2 715 1004.5Z"/>
</g>
<g clip-path="url(#cp)" fill="none" stroke="#3f3f3f" stroke-width="3.3" stroke-linecap="round" stroke-linejoin="round">
<path d="M385 176.7C385.8 177.2 386.9 178.9 390 180C393.1 181.1 397.8 182.7 403.3 183.3C408.9 184 417.2 183.8 423.3 184C429.4 184.2 434.4 183.6 440 184.3C445.6 185.1 452.2 187.3 456.7 188.3C461.1 189.4 461.1 190 466.7 190.7C472.2 191.3 482.8 191.7 490 192.3C497.2 192.9 504.4 193.4 510 194.3C515.6 195.2 518.3 195.9 523.3 197.7C528.3 199.4 535 202.7 540 205C545 207.3 549.4 209.9 553.3 211.7C557.2 213.4 560 215 563.3 215.7C566.7 216.3 570 215.9 573.3 215.7C576.7 215.4 580.6 213.9 583.3 214C586.1 214.1 587.8 214.2 590 216C592.2 217.8 594.4 221 596.7 225C598.9 229 601.1 234.4 603.3 240C605.6 245.6 607.5 252.5 610 258.3C612.5 264.2 615.8 270.8 618.3 275C620.8 279.2 622.8 281.7 625 283.3C627.2 284.9 629.4 284.9 631.7 284.7C633.9 284.4 635.8 283.6 638.3 281.7C640.8 279.8 644.2 275.3 646.7 273.3C649.2 271.3 650.8 270.2 653.3 269.7C655.8 269.1 658.9 269.3 661.7 270C664.4 270.7 668.6 273.3 670 274"/>
<path d="M721.7 285C724.7 285.3 734.7 285.8 740 286.7C745.3 287.5 748.6 288.3 753.3 290C758.1 291.7 764.2 293.9 768.3 296.7C772.5 299.4 775 302.5 778.3 306.7C781.7 310.8 784.7 316.4 788.3 321.7C791.9 326.9 795.3 332.2 800 338.3C804.7 344.4 811.1 352.4 816.7 358.3C822.2 364.3 827.8 368.6 833.3 374C838.9 379.4 845.3 385.9 850 390.7C854.7 395.4 858.3 399.6 861.7 402.3C865 405.1 867.2 406.3 870 407.3C872.8 408.3 875.8 408.6 878.3 408.3C880.8 408.1 883.1 407.2 885 405.7C886.9 404.1 888.7 402.4 890 399C891.3 395.6 891.8 390.1 892.7 385C893.5 379.9 894.1 373.9 895 368.3C895.9 362.8 896.9 356.7 898.3 351.7C899.7 346.7 901.4 342.2 903.3 338.3C905.3 334.4 906.7 331.1 910 328.3C913.3 325.6 918.3 323.3 923.3 321.7C928.3 320 934.4 319 940 318.3C945.6 317.7 951.1 317.5 956.7 317.7C962.2 317.8 967.2 318.8 973.3 319.3C979.4 319.8 987.2 319.9 993.3 320.7C999.4 321.4 1007.2 323.4 1010 324"/>
<path d="M1058.3 351.7C1060.3 352.8 1065.3 356.3 1070 358.3C1074.7 360.4 1080 362.9 1086.7 364C1093.3 365.1 1102.8 364.7 1110 365C1117.2 365.3 1124.4 365.4 1130 365.7C1135.6 365.9 1138.6 366 1143.3 366.7C1148.1 367.3 1155.8 369.2 1158.3 369.7"/>
<path d="M191.7 356.7C194.2 353.6 201.9 343.1 206.7 338.3C211.4 333.6 215.8 330.4 220 328.3C224.2 326.3 228.3 325.9 231.7 326C235 326.1 235.8 326.4 240 329C244.2 331.6 251.1 338 256.7 341.7C262.2 345.3 269.4 349.1 273.3 351C277.2 352.9 276.1 352.8 280 353.3C283.9 353.8 292.2 353.3 296.7 354C301.1 354.7 303.6 355.6 306.7 357.7C309.7 359.8 312.2 363.3 315 366.7C317.8 370 320.3 374.8 323.3 377.7C326.4 380.6 328.9 382.6 333.3 384C337.8 385.4 345 385 350 386C355 387 357.2 388.6 363.3 390C369.4 391.4 382.8 393.6 386.7 394.3"/>
<path d="M440 403C443.3 403.2 454.4 402.9 460 404.3C465.6 405.8 468.9 408.8 473.3 411.7C477.8 414.6 482.5 418.3 486.7 421.7C490.8 425 494.4 428.9 498.3 431.7C502.2 434.4 505.8 435.6 510 438.3C514.2 441.1 518.9 445 523.3 448.3C527.8 451.7 533.1 456.2 536.7 458.3C540.3 460.4 541.9 460.6 545 461C548.1 461.4 551.4 461.5 555 460.7C558.6 459.8 563.1 457.4 566.7 456C570.3 454.6 572.8 453.3 576.7 452.3C580.6 451.4 585.6 451.1 590 450.3C594.4 449.6 599.4 448.3 603.3 447.7C607.2 447.1 610 446.3 613.3 446.7C616.7 447.1 620 447.8 623.3 450C626.7 452.2 630.8 457.2 633.3 460C635.8 462.8 636.1 463.9 638.3 466.7C640.6 469.4 644.2 474.3 646.7 476.7C649.2 479.1 651.4 480.6 653.3 481C655.3 481.4 656.7 480.6 658.3 479C660 477.4 660.7 474.8 663.3 471.7C665.9 468.6 672.2 462.2 674 460.3"/>
<path d="M716.7 437.3C717.8 436.1 720.8 431.6 723.3 430C725.8 428.4 728.9 427.7 731.7 427.7C734.4 427.7 737.6 428.2 740 430C742.4 431.8 744.7 433.6 746 438.3C747.3 443.1 747.4 449.4 747.7 458.3C747.9 467.2 747.6 480.6 747.3 491.7C747.1 502.8 746.1 518.1 746 525C745.9 531.9 746.8 526.4 746.7 533.3C746.5 540.3 745.8 556.7 745 566.7C744.2 576.7 742.8 585 741.7 593.3C740.6 601.7 739.4 608.9 738.3 616.7C737.2 624.4 736.1 632.8 735 640C733.9 647.2 732.3 654.4 731.7 660C731 665.6 730.7 667.8 731 673.3C731.3 678.9 732.3 686.7 733.3 693.3C734.4 700 736.2 707.2 737.3 713.3C738.4 719.4 738.4 723.9 740 730C741.6 736.1 744.4 743.3 746.7 750C748.9 756.7 750.8 763.3 753.3 770C755.8 776.7 759.2 784.2 761.7 790C764.2 795.8 765.6 800.8 768.3 805C771.1 809.2 774.7 812.2 778.3 815C781.9 817.8 785.8 820.4 790 821.7C794.2 822.9 799.4 821.9 803.3 822.7C807.2 823.4 810 823.9 813.3 826C816.7 828.1 820 831.6 823.3 835C826.7 838.4 829.4 842.2 833.3 846.7C837.2 851.1 842.2 857.8 846.7 861.7C851.1 865.6 855.6 867.8 860 870C864.4 872.2 868.9 873.1 873.3 875C877.8 876.9 883.3 880 886.7 881.7C890 883.3 890.6 882.8 893.3 885C896.1 887.2 900 892.2 903.3 895C906.7 897.8 909.4 899.7 913.3 901.7C917.2 903.6 921.7 904.8 926.7 906.7C931.7 908.5 937.2 910.9 943.3 912.7C949.4 914.4 956.7 915.8 963.3 917.3C970 918.8 976.7 920.4 983.3 921.7C990 922.9 996.1 924.1 1003.3 925C1010.6 925.9 1018.9 926.8 1026.7 927.3C1034.4 927.9 1042.1 928 1050 928.3C1057.9 928.7 1070 929.2 1074 929.3"/>
<path d="M1128.3 938.3C1130.8 938.9 1138.3 940.9 1143.3 941.7C1148.3 942.4 1155.8 942.8 1158.3 943"/>
<path d="M1158.3 483.7C1155.3 483.3 1143.1 482 1140 481.7"/>
<path d="M1083.3 497C1081.4 498.9 1075.6 503.7 1071.7 508.3C1067.8 513 1064.2 520.3 1060 525C1055.8 529.7 1051.7 533.4 1046.7 536.7C1041.7 539.9 1036.1 542.5 1030 544.3C1023.9 546.2 1015.6 546.6 1010 547.7C1004.4 548.8 1000.6 549.2 996.7 551C992.8 552.8 990 555.2 986.7 558.3C983.3 561.5 979.2 567.2 976.7 570C974.2 572.8 974.2 573.1 971.7 575C969.2 576.9 965.3 580.4 961.7 581.7C958.1 582.9 953.6 582.9 950 582.7C946.4 582.4 943.3 581.7 940 580C936.7 578.3 933.9 575.7 930 572.7C926.1 569.6 921.1 564.9 916.7 561.7C912.2 558.4 907.5 555.3 903.3 553.3C899.2 551.4 895.6 550.3 891.7 550C887.8 549.7 883.9 550.3 880 551.7C876.1 553.1 872.2 555.9 868.3 558.3C864.4 560.7 860.6 564.4 856.7 566C852.8 567.6 848.6 567.8 845 567.7C841.4 567.5 838.6 566.3 835 565C831.4 563.7 827.5 560.9 823.3 560C819.2 559.1 813.9 558.2 810 559.3C806.1 560.4 802.5 562.7 800 566.7C797.5 570.7 796.1 576.4 795 583.3C793.9 590.2 793.6 603.9 793.3 608"/>
<path d="M793.3 636.7C794.4 638.9 797.8 644.4 800 650C802.2 655.6 804.4 663.3 806.7 670C808.9 676.7 811.1 683.3 813.3 690C815.6 696.7 817.8 703.3 820 710C822.2 716.7 824.2 723.9 826.7 730C829.2 736.1 831.9 741.4 835 746.7C838.1 751.9 841.1 757.8 845 761.7C848.9 765.6 853.6 767.5 858.3 770C863.1 772.5 869.2 774.2 873.3 776.7C877.5 779.2 880 781.9 883.3 785C886.7 788.1 890 791.7 893.3 795C896.7 798.3 900.6 802.9 903.3 805C906.1 807.1 907.9 807.9 910 807.3C912.1 806.8 914.4 804.6 916 801.7C917.6 798.8 918.4 794.2 919.3 790C920.3 785.8 920.4 781.4 921.7 776.7C922.9 771.9 924.2 766.4 926.7 761.7C929.2 756.9 932.8 751.9 936.7 748.3C940.6 744.7 945 742.4 950 740C955 737.6 960.8 735.5 966.7 734C972.5 732.5 979.4 731.1 985 731C990.6 730.9 994.7 732.1 1000 733.3C1005.3 734.6 1011.1 736.8 1016.7 738.3C1022.2 739.9 1028.3 741.7 1033.3 742.7C1038.3 743.6 1042.2 744.2 1046.7 744C1051.1 743.8 1055.6 743.2 1060 741.7C1064.4 740.2 1068.9 736.8 1073.3 735C1077.8 733.2 1082.2 731.5 1086.7 730.7C1091.1 729.8 1095.6 729.6 1100 730C1104.4 730.4 1108.9 731.9 1113.3 733.3C1117.8 734.7 1122.2 736.8 1126.7 738.3C1131.1 739.9 1134.7 741.8 1140 742.7C1145.3 743.6 1155.3 743.5 1158.3 743.7"/>
<path d="M191.7 557.3C193.3 556 198.6 550.7 201.7 549.3C204.7 547.9 207.5 547.8 210 549C212.5 550.2 214.4 552.9 216.7 556.7C218.9 560.4 221.1 566.7 223.3 571.7C225.6 576.7 227.8 582.2 230 586.7C232.2 591.1 234.2 595.3 236.7 598.3C239.2 601.4 241.9 604.4 245 605C248.1 605.6 251.4 602.9 255 601.7C258.6 600.4 262.5 598.1 266.7 597.7C270.8 597.3 275.6 598.8 280 599.3C284.4 599.8 289.4 601.1 293.3 600.7C297.2 600.2 300.3 599 303.3 596.7C306.4 594.3 308.9 590.8 311.7 586.7C314.4 582.5 317.5 575.8 320 571.7C322.5 567.5 324.4 564.1 326.7 561.7C328.9 559.3 331.1 557.3 333.3 557.3C335.6 557.3 337.2 559.4 340 561.7C342.8 563.9 346.7 569.4 350 570.7C353.3 571.9 356.1 570.4 360 569.3C363.9 568.2 368.9 565.7 373.3 564C377.8 562.3 382.5 560.4 386.7 559.3C390.8 558.3 394.4 557.3 398.3 557.7C402.2 558.1 405.8 559.3 410 561.7C414.2 564 418.9 568.2 423.3 571.7C427.8 575.2 432.2 579.3 436.7 582.7C441.1 586 445.6 589.2 450 591.7C454.4 594.2 458.9 595.1 463.3 597.7C467.8 600.3 472.2 604.1 476.7 607.3C481.1 610.6 485.6 614.2 490 617.3C494.4 620.4 498.9 623.9 503.3 626C507.8 628.1 512.2 629.1 516.7 630C521.1 630.9 525.6 631.2 530 631.7C534.4 632.1 538.9 631.8 543.3 632.7C547.8 633.5 552.5 634.6 556.7 636.7C560.8 638.7 564.7 641.4 568.3 645C571.9 648.6 575 653.9 578.3 658.3C581.7 662.8 585 667.8 588.3 671.7C591.7 675.6 594.4 678.6 598.3 681.7C602.2 684.7 607.5 686.9 611.7 690C615.8 693.1 620 696.4 623.3 700C626.7 703.6 629.2 706.9 631.7 711.7C634.2 716.4 635.8 723.7 638.3 728.3C640.8 732.9 644.1 736.3 646.7 739.3C649.3 742.4 652.8 745.4 654 746.7"/>
<path d="M700 775.3C702.2 776.7 708.9 779.8 713.3 783.3C717.8 786.9 722.8 791.7 726.7 796.7C730.6 801.7 733.9 807.8 736.7 813.3C739.4 818.9 740.8 824.4 743.3 830C745.8 835.6 748.3 841.4 751.7 846.7C755 851.9 759.2 856.9 763.3 861.7C767.5 866.4 772.2 872.1 776.7 875C781.1 877.9 785.6 878.5 790 879.3C794.4 880.2 798.9 879.1 803.3 880C807.8 880.9 812.5 882.5 816.7 885C820.8 887.5 826.1 893.1 828.3 895C830.6 896.9 827.5 894.2 830 896.7C832.5 899.2 838.3 906.1 843.3 910C848.3 913.9 854.4 916.7 860 920C865.6 923.3 870.6 926.4 876.7 930C882.8 933.6 889.4 937.8 896.7 941.7C903.9 945.6 912.2 950 920 953.3C927.8 956.7 935.6 959.3 943.3 961.7C951.1 964 958.9 965.4 966.7 967.3C974.4 969.3 981.9 971.6 990 973.3C998.1 975.1 1010.8 976.9 1015 977.7"/>
<path d="M1070 990.7C1072.8 991.4 1081.1 993.6 1086.7 995C1092.2 996.4 1097.2 997.7 1103.3 999C1109.4 1000.3 1116.7 1001.5 1123.3 1002.7C1130 1003.8 1137.5 1005.2 1143.3 1006C1149.2 1006.8 1155.8 1007.4 1158.3 1007.7"/>
<path d="M191.7 730C193.6 730.6 199.7 732.1 203.3 733.3C206.9 734.6 210 736.9 213.3 737.3C216.7 737.8 219.4 736.8 223.3 736C227.2 735.2 232.8 733.1 236.7 732.7C240.6 732.2 243.3 732.6 246.7 733.3C250 734.1 253.3 735.4 256.7 737.3C260 739.3 263.3 741.8 266.7 745C270 748.2 273.3 752.5 276.7 756.7C280 760.8 283.6 766.1 286.7 770C289.7 773.9 292.2 777.8 295 780C297.8 782.2 300.6 782.9 303.3 783.3C306.1 783.8 308.3 784.3 311.7 782.7C315 781 319.2 777.1 323.3 773.3C327.5 769.6 332.2 764 336.7 760C341.1 756 345.8 751.7 350 749.3C354.2 747 357.2 746.4 361.7 746C366.1 745.6 370.8 746.4 376.7 746.7C382.5 746.9 390 747.1 396.7 747.3C403.3 747.6 410.6 747.6 416.7 748.3C422.8 749.1 427.8 750 433.3 751.7C438.9 753.3 444.4 756.3 450 758.3C455.6 760.4 461.1 762.6 466.7 764C472.2 765.4 478.3 766.3 483.3 766.7C488.3 767 492.8 766.8 496.7 766C500.6 765.2 503.6 763.5 506.7 761.7C509.7 759.8 511.9 756.6 515 755C518.1 753.4 521.7 752.3 525 752.3C528.3 752.3 531.4 753.2 535 755C538.6 756.8 542.5 760 546.7 763.3C550.8 766.7 555.6 771.1 560 775C564.4 778.9 568.9 783.1 573.3 786.7C577.8 790.3 582.2 794.3 586.7 796.7C591.1 799.1 595.6 799.9 600 801C604.4 802.1 609.4 801.8 613.3 803.3C617.2 804.8 621.1 808.6 623.3 810C625.6 811.4 624.4 809.9 626.7 811.7C628.9 813.4 633.3 817.7 636.7 820.7C640 823.6 643.8 827.1 646.7 829.3C649.6 831.6 652.8 833.2 654 834"/>
<path d="M704.3 856.7C706.4 858.6 712.9 864.2 716.7 868.3C720.4 872.5 723.9 876.9 726.7 881.7C729.4 886.4 730.8 891.9 733.3 896.7C735.8 901.4 738.6 905.4 741.7 910C744.7 914.6 750 921.7 751.7 924"/>
<path d="M771.7 949.3C773.3 951.1 778.1 956.8 781.7 960C785.3 963.2 789.2 966.4 793.3 968.3C797.5 970.3 802.2 970.7 806.7 971.7C811.1 972.6 815.6 972.6 820 974C824.4 975.4 828.9 977.4 833.3 980C837.8 982.6 842.2 986.8 846.7 989.3C851.1 991.8 855 993.4 860 995C865 996.6 871.7 997.9 876.7 999C881.7 1000.1 885.6 1000.6 890 1001.7C894.4 1002.8 899.3 1004.7 903.3 1005.7C907.3 1006.7 912.2 1007.3 914 1007.7"/>
<path d="M191.7 790.7C193.6 789.6 198.6 785.2 203.3 784C208.1 782.8 215 784 220 783.3C225 782.7 229.2 780.3 233.3 780C237.5 779.7 241.1 780.6 245 781.7C248.9 782.8 252.5 784.7 256.7 786.7C260.8 788.6 265.8 790.6 270 793.3C274.2 796.1 277.8 800.3 281.7 803.3C285.6 806.4 289.7 809.9 293.3 811.7C296.9 813.4 299.7 813.8 303.3 814C306.9 814.2 311.1 814.2 315 812.7C318.9 811.2 322.5 807.4 326.7 805C330.8 802.6 335.6 799.9 340 798.3C344.4 796.8 348.3 796.2 353.3 795.7C358.3 795.1 364.4 795 370 795C375.6 795 381.1 794.9 386.7 795.7C392.2 796.4 397.2 797.5 403.3 799.3C409.4 801.2 416.7 804.1 423.3 806.7C430 809.3 437.2 811.9 443.3 815C449.4 818.1 454.4 821.4 460 825C465.6 828.6 471.7 833.1 476.7 836.7C481.7 840.3 485.6 843.7 490 846.7C494.4 849.6 498.9 852.1 503.3 854.3C507.8 856.6 512.2 858.6 516.7 860C521.1 861.4 526 862.1 530 862.7C534 863.2 538.9 863.2 540.7 863.3"/>
<path d="M589.3 881C591.1 883.3 596.3 890.4 600 895C603.7 899.6 607.8 904.4 611.7 908.3C615.6 912.2 619.2 915.4 623.3 918.3C627.5 921.3 632.2 924.1 636.7 926C641.1 927.9 646.4 929.3 650 930C653.6 930.7 656.7 930 658 930"/>
<path d="M708.3 937.7C710.3 939.4 715.8 944.1 720 948.3C724.2 952.6 728.9 958.6 733.3 963.3C737.8 968.1 742.2 972.9 746.7 976.7C751.1 980.4 755.8 983.2 760 986C764.2 988.8 767.5 989.8 771.7 993.3C775.8 996.9 782.8 1005 785 1007.3"/>
<path d="M191.7 825C193.6 823.9 198.6 819.7 203.3 818.3C208.1 816.9 215 817.2 220 816.7C225 816.1 229.4 815 233.3 815C237.2 815 239.4 815.3 243.3 816.7C247.2 818.1 252.2 820.8 256.7 823.3C261.1 825.8 266.1 828.6 270 831.7C273.9 834.7 276.7 838.5 280 841.7C283.3 844.8 286.9 848.6 290 850.7C293.1 852.7 294.7 853.6 298.3 854C301.9 854.4 307.5 854 311.7 853.3C315.8 852.7 319.4 850.8 323.3 850C327.2 849.2 331.4 847.9 335 848.3C338.6 848.8 341.4 850.4 345 852.7C348.6 854.9 352.5 858.5 356.7 861.7C360.8 864.8 366.1 869.4 370 871.7C373.9 873.9 376.1 874.7 380 875C383.9 875.3 388.9 874 393.3 873.3C397.8 872.7 402.2 870.7 406.7 871C411.1 871.3 415.6 873.1 420 875C424.4 876.9 428.3 880.1 433.3 882.3C438.3 884.6 444.4 886.5 450 888.3C455.6 890.2 461.7 891.6 466.7 893.3C471.7 895.1 476.1 897.1 480 899C483.9 900.9 486.7 902.6 490 905C493.3 907.4 496.4 910.6 500 913.3C503.6 916.1 508.1 919.3 511.7 921.7C515.3 924 520 926.4 521.7 927.3"/>
<path d="M560 955.3C561.7 956.9 566.7 961.4 570 965C573.3 968.6 576.7 972.8 580 976.7C583.3 980.6 586.9 985 590 988.3C593.1 991.7 595.6 994.4 598.3 996.7C601.1 998.9 603.1 1000.3 606.7 1001.7C610.3 1003.1 615.6 1004.2 620 1005C624.4 1005.8 630.1 1006.2 633.3 1006.7C636.6 1007.2 637.7 1007.7 639.3 1008C641 1008.3 642.7 1008.3 643.3 1008.3"/>
<path d="M191.7 873.3C193.6 872.4 199.2 868.8 203.3 867.7C207.5 866.6 211.7 866.7 216.7 866.7C221.7 866.6 228.3 866.5 233.3 867.3C238.3 868.2 242.2 869.8 246.7 871.7C251.1 873.5 255.8 875.6 260 878.3C264.2 881.1 268.1 884.7 271.7 888.3C275.3 891.9 278.3 896.4 281.7 900C285 903.6 288.1 907.2 291.7 910C295.3 912.8 299.2 915.2 303.3 916.7C307.5 918.2 312.2 918.6 316.7 919C321.1 919.4 325.6 919.1 330 919.3C334.4 919.6 338.9 919.4 343.3 920.7C347.8 921.9 352.2 924.3 356.7 926.7C361.1 929.1 365.6 931.9 370 935C374.4 938.1 378.9 941.7 383.3 945C387.8 948.3 392.8 951.8 396.7 955C400.6 958.2 403.1 960.9 406.7 964C410.3 967.1 416.4 971.8 418.3 973.3"/>
<path d="M215 936C216.9 934.7 222.5 930.7 226.7 928.3C230.8 925.9 235.6 923.2 240 921.7C244.4 920.1 249.2 919.3 253.3 919C257.5 918.7 261.7 918.7 265 920C268.3 921.3 271.1 924.4 273.3 926.7C275.6 928.9 276.8 931.3 278.3 933.3C279.8 935.4 281.7 938.1 282.3 939"/>
</g>
<g clip-path="url(#cp)" fill="none" stroke="#000" stroke-width="2"><path d="M191.7 938C193.6 937.7 200 935.9 203.3 936C206.7 936.1 208.9 937.4 211.7 938.3C214.4 939.3 215.8 940.9 220 941.7C224.2 942.4 230.6 942.4 236.7 942.7C242.8 942.9 250.8 943.5 256.7 943.3C262.5 943.2 267.2 941.5 271.7 941.7C276.1 941.8 278.6 943.1 283.3 944.3C288.1 945.6 294.4 947.7 300 949C305.6 950.3 312.8 951.4 316.7 952.3C320.6 953.2 320 953.7 323.3 954.3C326.7 954.9 332.2 955.3 336.7 956C341.1 956.7 345.6 957.3 350 958.3C354.4 959.4 358.3 961.1 363.3 962.3C368.3 963.6 375 964.7 380 965.7C385 966.7 388.9 967.1 393.3 968.3C397.8 969.6 402.2 971.9 406.7 973.3C411.1 974.7 415 975.8 420 976.7C425 977.5 431.1 977.6 436.7 978.3C442.2 979.1 448.3 980 453.3 981C458.3 982 461.7 983.4 466.7 984.3C471.7 985.3 478.3 986.2 483.3 986.7C488.3 987.2 492.2 987.1 496.7 987.3C501.1 987.6 505.6 987.6 510 988C514.4 988.4 518.9 988.9 523.3 990C527.8 991.1 532.2 993.1 536.7 994.3C541.1 995.6 546.1 996.9 550 997.7C553.9 998.4 556.1 997.9 560 998.7C563.9 999.4 568.9 1000.8 573.3 1002.3C577.8 1003.8 582.2 1006.2 586.7 1007.7C591.1 1009.2 593.9 1010.7 600 1011.3C606.1 1011.9 616.1 1011.4 623.3 1011.3C630.6 1011.3 637.2 1011.1 643.3 1011C649.4 1010.9 655.6 1011.1 660 1010.7C664.4 1010.2 666.7 1009.1 670 1008.3C673.3 1007.6 676.1 1006.4 680 1006C683.9 1005.6 688.9 1005.8 693.3 1006C697.8 1006.2 702.2 1006.7 706.7 1007.3C711.1 1008 715.6 1009.4 720 1010C724.4 1010.6 728.3 1010.9 733.3 1011C738.3 1011.1 744.4 1010.8 750 1010.7C755.6 1010.5 761.1 1010.2 766.7 1010C772.2 1009.8 775 1009.5 783.3 1009.3C791.7 1009.2 805.6 1009 816.7 1009C827.8 1009 845.6 1009.4 850 1009.3C854.4 1009.3 833.3 1008.7 843.3 1008.7C853.3 1008.7 887.8 1009.1 910 1009.3C932.2 1009.6 954.4 1009.8 976.7 1010C998.9 1010.2 1021.1 1010.5 1043.3 1010.7C1065.6 1010.8 1090.8 1010.9 1110 1011C1129.2 1011.1 1150.3 1011.3 1158.3 1011.3"/></g>
<g>
<rect x="385.5" y="385.5" width="55" height="28" fill="#fff" stroke="#333" stroke-width="1" shape-rendering="crispEdges"/>
<text transform="translate(389.3,408.9) scale(1.1,1)" font-size="27" fill="#303030" stroke="#fff" stroke-width="0.55" textLength="41.8" lengthAdjust="spacing">328</text>
<rect x="668.5" y="271.5" width="55" height="28" fill="#fff" stroke="#333" stroke-width="1" shape-rendering="crispEdges"/>
<text transform="translate(673,295.2) scale(1.1,1)" font-size="27" fill="#303030" stroke="#fff" stroke-width="0.55" textLength="41.8" lengthAdjust="spacing">332</text>
<rect x="1008.5" y="323.5" width="55" height="28" fill="#fff" stroke="#333" stroke-width="1" shape-rendering="crispEdges"/>
<text transform="translate(1013,347.2) scale(1.1,1)" font-size="27" fill="#303030" stroke="#fff" stroke-width="0.55" textLength="41.8" lengthAdjust="spacing">332</text>
<rect x="673.5" y="437.5" width="55" height="28" fill="#fff" stroke="#333" stroke-width="1" shape-rendering="crispEdges"/>
<text transform="translate(677.8,460.9) scale(1.1,1)" font-size="27" fill="#303030" stroke="#fff" stroke-width="0.55" textLength="41.8" lengthAdjust="spacing">328</text>
<rect x="1083.5" y="473.5" width="55" height="28" fill="#fff" stroke="#333" stroke-width="1" shape-rendering="crispEdges"/>
<text transform="translate(1087.5,496.8) scale(1.1,1)" font-size="27" fill="#303030" stroke="#fff" stroke-width="0.55" textLength="41.8" lengthAdjust="spacing">328</text>
<rect x="764.5" y="608.5" width="55" height="28" fill="#fff" stroke="#333" stroke-width="1" shape-rendering="crispEdges"/>
<text transform="translate(769,632.2) scale(1.1,1)" font-size="27" fill="#303030" stroke="#fff" stroke-width="0.55" textLength="41.8" lengthAdjust="spacing">328</text>
<rect x="647.5" y="747.5" width="55" height="28" fill="#fff" stroke="#333" stroke-width="1" shape-rendering="crispEdges"/>
<text transform="translate(651.5,770.8) scale(1.1,1)" font-size="27" fill="#303030" stroke="#fff" stroke-width="0.55" textLength="41.8" lengthAdjust="spacing">324</text>
<rect x="652.5" y="828.5" width="55" height="28" fill="#fff" stroke="#333" stroke-width="1" shape-rendering="crispEdges"/>
<text transform="translate(657,852.2) scale(1.1,1)" font-size="27" fill="#303030" stroke="#fff" stroke-width="0.55" textLength="41.8" lengthAdjust="spacing">320</text>
<rect x="540.5" y="853.5" width="55" height="28" fill="#fff" stroke="#333" stroke-width="1" shape-rendering="crispEdges"/>
<text transform="translate(545,876.8) scale(1.1,1)" font-size="27" fill="#303030" stroke="#fff" stroke-width="0.55" textLength="41.8" lengthAdjust="spacing">316</text>
<rect x="656.5" y="909.5" width="55" height="28" fill="#fff" stroke="#333" stroke-width="1" shape-rendering="crispEdges"/>
<text transform="translate(661,933.2) scale(1.1,1)" font-size="27" fill="#303030" stroke="#fff" stroke-width="0.55" textLength="41.8" lengthAdjust="spacing">316</text>
<rect x="732.5" y="921.5" width="55" height="28" fill="#fff" stroke="#333" stroke-width="1" shape-rendering="crispEdges"/>
<text transform="translate(737,945.2) scale(1.1,1)" font-size="27" fill="#303030" stroke="#fff" stroke-width="0.55" textLength="41.8" lengthAdjust="spacing">320</text>
<rect x="512.5" y="928.5" width="55" height="28" fill="#fff" stroke="#333" stroke-width="1" shape-rendering="crispEdges"/>
<text transform="translate(517,951.8) scale(1.1,1)" font-size="27" fill="#303030" stroke="#fff" stroke-width="0.55" textLength="41.8" lengthAdjust="spacing">312</text>
<rect x="1073.5" y="919.5" width="55" height="28" fill="#fff" stroke="#333" stroke-width="1" shape-rendering="crispEdges"/>
<text transform="translate(1077.6,943.2) scale(1.1,1)" font-size="27" fill="#303030" stroke="#fff" stroke-width="0.55" textLength="41.8" lengthAdjust="spacing">328</text>
<rect x="1015.5" y="968.5" width="55" height="28" fill="#fff" stroke="#333" stroke-width="1" shape-rendering="crispEdges"/>
<text transform="translate(1019.5,992.2) scale(1.1,1)" font-size="27" fill="#303030" stroke="#fff" stroke-width="0.55" textLength="41.8" lengthAdjust="spacing">324</text>
</g>
<g clip-path="url(#cp)" fill="none" stroke="#000" stroke-linecap="butt" stroke-linejoin="miter">
<path stroke-width="2.7" d="M275 240L253 239.7"/>
<path fill="#000" stroke-width="1" d="M257.5 242.5L252 239.7L257.6 237.1Z"/>
<path stroke-width="2.7" d="M355 245.7L331 247.2"/>
<path fill="#000" stroke-width="1" d="M336.3 249.9L330 247.3L335.9 244Z"/>
<path stroke-width="2.7" d="M435 251.3L413 251.7"/>
<path fill="#000" stroke-width="1" d="M417.6 254.3L412 251.7L417.5 248.9Z"/>
<path stroke-width="2.7" d="M515 255L491 255.3"/>
<path fill="#000" stroke-width="1" d="M496.1 258.2L490 255.3L496 252.3Z"/>
<path stroke-width="2.7" d="M595 260.7L570.9 252.6"/>
<path stroke-width="1.5" d="M575.1 257.3L570 252.3"/>
<path stroke-width="2.8" d="M577.1 251.4L570 252.3"/>
<path stroke-width="2.7" d="M675 260L648.3 253"/>
<path fill="#000" stroke-width="1" d="M653.2 257.8L647.3 252.7L654.9 251.2Z"/>
<path stroke-width="2.7" d="M755 260.7L730 260"/>
<path fill="#000" stroke-width="1" d="M735.2 263.2L729 260L735.4 257.1Z"/>
<path stroke-width="2.7" d="M835 260.7L803 260"/>
<path fill="#000" stroke-width="1" d="M809.9 264.1L802 260L810.1 256.3Z"/>
<path stroke-width="2.7" d="M915 260.7L886.6 248.7"/>
<path stroke-width="1.5" d="M891.3 254.8L885.7 248.3"/>
<path stroke-width="2.8" d="M894.3 247.8L885.7 248.3"/>
<path stroke-width="2.7" d="M995 260.7L968.3 255.2"/>
<path fill="#000" stroke-width="1" d="M973.3 259.7L967.3 255L974.7 253.1Z"/>
<path stroke-width="2.7" d="M1075 261L1048.3 257.4"/>
<path fill="#000" stroke-width="1" d="M1053.6 261.5L1047.3 257.3L1054.5 254.9Z"/>
<path stroke-width="2.7" d="M1154.5 261.7L1131 257.5"/>
<path fill="#000" stroke-width="1" d="M1135.4 261.3L1130 257.3L1136.5 255.5Z"/>
<path stroke-width="2.7" d="M275 302.3L250 297.9"/>
<path fill="#000" stroke-width="1" d="M254.8 301.9L249 297.7L255.9 295.7Z"/>
<path stroke-width="2.7" d="M355 309L333 310.6"/>
<path fill="#000" stroke-width="1" d="M337.8 313L332 310.7L337.4 307.6Z"/>
<path stroke-width="2.7" d="M435 315.3L416 311.2"/>
<path fill="#000" stroke-width="1" d="M419.3 314.4L415 311L420.4 309.7Z"/>
<path stroke-width="2.7" d="M515 318.7L498 322.1"/>
<path fill="#000" stroke-width="1" d="M501.8 323.6L497 322.3L500.9 319.3Z"/>
<path stroke-width="2.7" d="M595 326.7L574.9 317.1"/>
<path stroke-width="1.5" d="M577.9 321.6L574 316.7"/>
<path stroke-width="2.8" d="M580.3 316.6L574 316.7"/>
<path stroke-width="2.7" d="M675 325.7L651.6 313.8"/>
<path stroke-width="1.5" d="M655.1 319.2L650.7 313.3"/>
<path stroke-width="2.8" d="M658.1 313.4L650.7 313.3"/>
<path stroke-width="2.7" d="M755 326.7L733.2 318.6"/>
<path stroke-width="1.5" d="M736.8 323L732.3 318.3"/>
<path stroke-width="2.8" d="M738.8 317.7L732.3 318.3"/>
<path stroke-width="2.7" d="M835 325.7L808.4 338.9"/>
<path stroke-width="2.8" d="M815.8 339.3L807.5 339.3"/>
<path stroke-width="1.5" d="M812.6 332.7L807.5 339.3"/>
<path stroke-width="2.7" d="M915 326.7L885.9 313.7"/>
<path stroke-width="1.5" d="M890.7 320.1L885 313.3"/>
<path stroke-width="2.8" d="M893.9 313L885 313.3"/>
<path stroke-width="2.7" d="M995 326.7L967.7 319.6"/>
<path fill="#000" stroke-width="1" d="M972.7 324.4L966.7 319.3L974.4 317.7Z"/>
<path stroke-width="2.7" d="M1075 327.7L1051.7 322.5"/>
<path fill="#000" stroke-width="1" d="M1056 326.5L1050.7 322.3L1057.2 320.7Z"/>
<path stroke-width="2.7" d="M1154.5 327.7L1134.9 320.4"/>
<path stroke-width="1.5" d="M1138.1 324.3L1134 320"/>
<path stroke-width="2.8" d="M1139.9 319.4L1134 320"/>
<path stroke-width="2.7" d="M275 371.7L251 365"/>
<path fill="#000" stroke-width="1" d="M255.2 369.4L250 364.7L256.9 363.4Z"/>
<path stroke-width="2.7" d="M355 378L332.3 377.3"/>
<path fill="#000" stroke-width="1" d="M337 380.3L331.3 377.3L337.1 374.7Z"/>
<path stroke-width="2.7" d="M435 386.3L415 381.9"/>
<path fill="#000" stroke-width="1" d="M418.6 385.3L414 381.7L419.6 380.3Z"/>
<path stroke-width="2.7" d="M515 392L497 393.9"/>
<path fill="#000" stroke-width="1" d="M500.8 395.8L496 394L500.4 391.3Z"/>
<path stroke-width="2.7" d="M595 400.7L578 397.9"/>
<path fill="#000" stroke-width="1" d="M581 400.6L577 397.7L581.7 396.3Z"/>
<path stroke-width="2.7" d="M675 400L653.1 385.6"/>
<path stroke-width="1.5" d="M656 391.3L652.3 385"/>
<path stroke-width="2.8" d="M659.6 386L652.3 385"/>
<path stroke-width="2.7" d="M755 401L725.5 377.3"/>
<path stroke-width="1.5" d="M729.2 386.2L724.7 376.7"/>
<path stroke-width="2.8" d="M734.9 379L724.7 376.7"/>
<path stroke-width="2.7" d="M835.7 399.3L815 418.3"/>
<path stroke-width="2.8" d="M821.8 416.8L814.3 419"/>
<path stroke-width="1.5" d="M817.2 411.7L814.3 419"/>
<path stroke-width="2.7" d="M915 400.7L890.9 391.1"/>
<path stroke-width="1.5" d="M894.9 396.1L890 390.7"/>
<path stroke-width="2.8" d="M897.3 390.2L890 390.7"/>
<path stroke-width="2.7" d="M995 400.7L970.2 391.4"/>
<path stroke-width="1.5" d="M974.4 396.4L969.3 391"/>
<path stroke-width="2.8" d="M976.7 390.3L969.3 391"/>
<path stroke-width="2.7" d="M1075 400.7L1055 394.3"/>
<path fill="#000" stroke-width="1" d="M1058.3 398.1L1054 394L1059.9 393.1Z"/>
<path stroke-width="2.7" d="M1154.5 401.7L1135.9 393.7"/>
<path stroke-width="1.5" d="M1138.7 397.6L1135 393.3"/>
<path stroke-width="2.8" d="M1140.7 393L1135 393.3"/>
<path stroke-width="2.7" d="M275 448.3L256 447.7"/>
<path fill="#000" stroke-width="1" d="M259.8 450.2L255 447.7L259.9 445.5Z"/>
<path stroke-width="2.7" d="M355 457.7L331 451.3"/>
<path fill="#000" stroke-width="1" d="M335.3 455.6L330 451L336.9 449.7Z"/>
<path stroke-width="2.7" d="M435 466.3L408 463.4"/>
<path fill="#000" stroke-width="1" d="M413.4 467.3L407 463.3L414.1 460.7Z"/>
<path stroke-width="2.7" d="M515 471.3L493 473.6"/>
<path fill="#000" stroke-width="1" d="M497.9 475.8L492 473.7L497.3 470.4Z"/>
<path stroke-width="2.7" d="M595 482.3L576 482.7"/>
<path fill="#000" stroke-width="1" d="M579.9 485L575 482.7L579.8 480.2Z"/>
<path stroke-width="2.7" d="M675 481.7L652 474.6"/>
<path fill="#000" stroke-width="1" d="M655.9 478.9L651 474.3L657.7 473.3Z"/>
<path stroke-width="2.7" d="M755 481.7L723.8 431.8"/>
<path stroke-width="2.8" d="M725 447.1L723.3 431"/>
<path stroke-width="1.5" d="M737 439.6L723.3 431"/>
<path stroke-width="2.7" d="M835 481.7L810 486.5"/>
<path fill="#000" stroke-width="1" d="M815.9 488.6L809 486.7L814.7 482.4Z"/>
<path stroke-width="2.7" d="M915 482.3L892 485.6"/>
<path fill="#000" stroke-width="1" d="M897.2 487.7L891 485.7L896.4 482Z"/>
<path stroke-width="2.7" d="M995 482.3L972.6 474.6"/>
<path stroke-width="1.5" d="M976.4 479L971.7 474.3"/>
<path stroke-width="2.8" d="M978.3 473.5L971.7 474.3"/>
<path stroke-width="2.7" d="M1075 483.3L1050 476.3"/>
<path fill="#000" stroke-width="1" d="M1054.4 480.8L1049 476L1056.2 474.7Z"/>
<path stroke-width="2.7" d="M1154.5 483.3L1129.3 476.3"/>
<path fill="#000" stroke-width="1" d="M1133.8 480.9L1128.3 476L1135.5 474.7Z"/>
<path stroke-width="2.7" d="M275 535L257 535.5"/>
<path fill="#000" stroke-width="1" d="M260.7 537.6L256 535.5L260.6 533.1Z"/>
<path stroke-width="2.7" d="M355 544L326 541.1"/>
<path fill="#000" stroke-width="1" d="M331.9 545.3L325 541L332.6 538.2Z"/>
<path stroke-width="2.7" d="M435 555.3L403.7 551.8"/>
<path fill="#000" stroke-width="1" d="M410.1 556.4L402.7 551.7L411 548.8Z"/>
<path stroke-width="2.7" d="M515 561.7L483 558.6"/>
<path fill="#000" stroke-width="1" d="M489.6 563.2L482 558.5L490.4 555.4Z"/>
<path stroke-width="2.7" d="M595 574L562.9 562.3"/>
<path stroke-width="1.5" d="M568.6 568.8L562 562"/>
<path stroke-width="2.8" d="M571.4 561L562 562"/>
<path stroke-width="2.7" d="M675 572L648 576.8"/>
<path fill="#000" stroke-width="1" d="M654.4 579.1L647 577L653.2 572.5Z"/>
<path stroke-width="2.7" d="M755 574L718.8 505.9"/>
<path stroke-width="2.8" d="M718.9 522L718.3 505"/>
<path stroke-width="1.5" d="M732.1 515L718.3 505"/>
<path stroke-width="2.7" d="M835 571.7L801.6 553.8"/>
<path stroke-width="1.5" d="M806.8 561.8L800.7 553.3"/>
<path stroke-width="2.8" d="M811.2 553.7L800.7 553.3"/>
<path stroke-width="2.7" d="M915 573.3L890.3 580.4"/>
<path fill="#000" stroke-width="1" d="M896.4 581.9L889.3 580.7L894.7 575.9Z"/>
<path stroke-width="2.7" d="M995 574L972.7 579.8"/>
<path fill="#000" stroke-width="1" d="M978.1 581.3L971.7 580L976.6 575.8Z"/>
<path stroke-width="2.7" d="M1075 574.3L1048.3 574"/>
<path fill="#000" stroke-width="1" d="M1054 577.4L1047.3 574L1054.1 570.8Z"/>
<path stroke-width="2.7" d="M1154.5 576L1127.7 570.9"/>
<path fill="#000" stroke-width="1" d="M1132.8 575.3L1126.7 570.7L1134.1 568.7Z"/>
<path stroke-width="2.7" d="M275 629.3L248.3 627.8"/>
<path fill="#000" stroke-width="1" d="M253.8 631.4L247.3 627.7L254.2 624.8Z"/>
<path stroke-width="2.7" d="M355 642.3L323.3 643.9"/>
<path fill="#000" stroke-width="1" d="M330.4 647.5L322.3 644L330 639.7Z"/>
<path stroke-width="2.7" d="M435 654.3L401 652.7"/>
<path fill="#000" stroke-width="1" d="M408.3 657.2L400 652.7L408.7 648.9Z"/>
<path stroke-width="2.7" d="M515 661.7L474.3 659.1"/>
<path fill="#000" stroke-width="1" d="M483.1 664.6L473.3 659L483.7 654.7Z"/>
<path stroke-width="2.7" d="M595 675L553.6 655.4"/>
<path stroke-width="1.5" d="M560.6 664.9L552.7 655"/>
<path stroke-width="2.8" d="M565.3 654.8L552.7 655"/>
<path stroke-width="2.7" d="M675 674.3L637 676.6"/>
<path fill="#000" stroke-width="1" d="M645.7 680.7L636 676.7L645.2 671.5Z"/>
<path stroke-width="2.7" d="M755 676L713.8 608.2"/>
<path stroke-width="2.8" d="M714.9 624.2L713.3 607.3"/>
<path stroke-width="1.5" d="M727.6 616.5L713.3 607.3"/>
<path stroke-width="2.7" d="M835 674L794 637.4"/>
<path stroke-width="1.5" d="M799 650.7L793.3 636.7"/>
<path stroke-width="2.8" d="M807.8 640.8L793.3 636.7"/>
<path stroke-width="2.7" d="M915 676L877 676"/>
<path fill="#000" stroke-width="1" d="M885.5 680.6L876 676L885.5 671.4Z"/>
<path stroke-width="2.7" d="M995 676.7L964.3 686.4"/>
<path fill="#000" stroke-width="1" d="M972.2 688L963.3 686.7L969.8 680.5Z"/>
<path stroke-width="2.7" d="M1075 676.7L1047 678.9"/>
<path fill="#000" stroke-width="1" d="M1053.3 681.9L1046 679L1052.8 675Z"/>
<path stroke-width="2.7" d="M1154.5 677.3L1129.3 671.2"/>
<path fill="#000" stroke-width="1" d="M1133.9 675.6L1128.3 671L1135.4 669.4Z"/>
<path stroke-width="2.7" d="M275 721L238.2 708.6"/>
<path stroke-width="1.5" d="M244.9 715.8L237.3 708.3"/>
<path stroke-width="2.8" d="M248 706.9L237.3 708.3"/>
<path stroke-width="2.7" d="M355 736L320.3 741.5"/>
<path fill="#000" stroke-width="1" d="M328.6 744.5L319.3 741.7L327.3 736.1Z"/>
<path stroke-width="2.7" d="M435 749.3L399.3 754.2"/>
<path fill="#000" stroke-width="1" d="M407.8 757.4L398.3 754.3L406.6 748.7Z"/>
<path stroke-width="2.7" d="M515 757.3L478 759.2"/>
<path fill="#000" stroke-width="1" d="M486.5 763.3L477 759.3L486 754.3Z"/>
<path stroke-width="2.7" d="M595 775L554.4 755.4"/>
<path stroke-width="1.5" d="M561.2 764.8L553.5 755"/>
<path stroke-width="2.8" d="M565.9 754.9L553.5 755"/>
<path stroke-width="2.7" d="M675 772.7L630.3 774.3"/>
<path fill="#000" stroke-width="1" d="M640.6 779.3L629.3 774.3L640.2 768.5Z"/>
<path stroke-width="2.7" d="M755 774L711.6 719.8"/>
<path stroke-width="2.8" d="M714.7 735.6L711 719"/>
<path stroke-width="1.5" d="M726.4 726.3L711 719"/>
<path stroke-width="2.7" d="M835 773.3L787.8 734.9"/>
<path stroke-width="1.5" d="M794 749.4L787 734.3"/>
<path stroke-width="2.8" d="M803.3 738.1L787 734.3"/>
<path stroke-width="2.7" d="M915 774L876 776.6"/>
<path fill="#000" stroke-width="1" d="M885 780.8L875 776.7L884.4 771.3Z"/>
<path stroke-width="2.7" d="M995 774.3L962 781.5"/>
<path fill="#000" stroke-width="1" d="M970.1 783.9L961 781.7L968.4 775.9Z"/>
<path stroke-width="2.7" d="M1075 775.3L1046 772.8"/>
<path fill="#000" stroke-width="1" d="M1052 776.9L1045 772.7L1052.6 769.8Z"/>
<path stroke-width="2.7" d="M1154.5 775.3L1125 769.5"/>
<path fill="#000" stroke-width="1" d="M1130.7 774.4L1124 769.3L1132.1 767.1Z"/>
<path stroke-width="2.7" d="M275 778.3L234.9 760.4"/>
<path stroke-width="1.5" d="M241.8 769.3L234 760"/>
<path stroke-width="2.8" d="M246.1 759.6L234 760"/>
<path stroke-width="2.7" d="M355 794L321 799.8"/>
<path fill="#000" stroke-width="1" d="M329.2 802.7L320 800L327.8 794.4Z"/>
<path stroke-width="2.7" d="M435 810L403.3 812.2"/>
<path fill="#000" stroke-width="1" d="M410.5 815.6L402.3 812.3L410 807.9Z"/>
<path stroke-width="2.7" d="M515 818.3L481 818.7"/>
<path fill="#000" stroke-width="1" d="M488.5 822.7L480 818.7L488.4 814.5Z"/>
<path stroke-width="2.7" d="M595 835.7L556.6 818.7"/>
<path stroke-width="1.5" d="M563.2 827.2L555.7 818.3"/>
<path stroke-width="2.8" d="M567.3 817.9L555.7 818.3"/>
<path stroke-width="2.7" d="M675 833.3L632 838.9"/>
<path fill="#000" stroke-width="1" d="M642.4 842.8L631 839L641 832.4Z"/>
<path stroke-width="2.7" d="M755 835L711.7 786.4"/>
<path stroke-width="2.8" d="M715.6 802.1L711 785.7"/>
<path stroke-width="1.5" d="M726.7 792.1L711 785.7"/>
<path stroke-width="2.7" d="M835 834.3L784.5 802.8"/>
<path stroke-width="1.5" d="M792.4 816.1L783.7 802.3"/>
<path stroke-width="2.8" d="M799.9 804L783.7 802.3"/>
<path stroke-width="2.7" d="M915 834L873 832.5"/>
<path fill="#000" stroke-width="1" d="M882.3 838L872 832.5L882.6 827.8Z"/>
<path stroke-width="2.7" d="M995 836L957 839.2"/>
<path fill="#000" stroke-width="1" d="M965.9 843.1L956 839.3L965.1 833.9Z"/>
<path stroke-width="2.7" d="M1075 836.7L1039.3 834.4"/>
<path fill="#000" stroke-width="1" d="M1046.9 839.2L1038.3 834.3L1047.5 830.5Z"/>
<path stroke-width="2.7" d="M1154.5 836.7L1117.7 831.8"/>
<path fill="#000" stroke-width="1" d="M1125.3 837.4L1116.7 831.7L1126.5 828.4Z"/>
<path stroke-width="2.7" d="M275 862.3L243.6 848.1"/>
<path stroke-width="1.5" d="M248.8 855.1L242.7 847.7"/>
<path stroke-width="2.8" d="M252.3 847.4L242.7 847.7"/>
<path stroke-width="2.7" d="M355 879.3L326 875.1"/>
<path fill="#000" stroke-width="1" d="M331.8 879.6L325 875L332.8 872.5Z"/>
<path stroke-width="2.7" d="M435 896.7L407.7 892.8"/>
<path fill="#000" stroke-width="1" d="M413.1 897L406.7 892.7L414 890.3Z"/>
<path stroke-width="2.7" d="M515 905.7L487 901.2"/>
<path fill="#000" stroke-width="1" d="M492.5 905.6L486 901L493.6 898.7Z"/>
<path stroke-width="2.7" d="M595 926.7L568.2 914.7"/>
<path stroke-width="1.5" d="M572.6 920.6L567.3 914.3"/>
<path stroke-width="2.8" d="M575.5 914L567.3 914.3"/>
<path stroke-width="2.7" d="M675 923.3L647.7 932"/>
<path fill="#000" stroke-width="1" d="M654.6 933.5L646.7 932.3L652.5 926.8Z"/>
<path stroke-width="2.7" d="M755 926L718.4 891.7"/>
<path stroke-width="1.5" d="M722.6 903.9L717.7 891"/>
<path stroke-width="2.8" d="M730.9 895.1L717.7 891"/>
<path stroke-width="2.7" d="M835 925L793.2 907.1"/>
<path stroke-width="1.5" d="M800.5 916.2L792.3 906.7"/>
<path stroke-width="2.8" d="M804.8 906.1L792.3 906.7"/>
<path stroke-width="2.7" d="M915 925.7L868 920.1"/>
<path fill="#000" stroke-width="1" d="M878 927.1L867 920L879.3 915.7Z"/>
<path stroke-width="2.7" d="M995 925.7L951.7 928.2"/>
<path fill="#000" stroke-width="1" d="M961.8 932.9L950.7 928.3L961.1 922.4Z"/>
<path stroke-width="2.7" d="M1075 927.7L1034.3 927.3"/>
<path fill="#000" stroke-width="1" d="M1043.4 932.3L1033.3 927.3L1043.5 922.5Z"/>
<path stroke-width="2.7" d="M1154.5 927.3L1113.7 926"/>
<path fill="#000" stroke-width="1" d="M1122.7 931.3L1112.7 926L1123 921.4Z"/>
<path stroke-width="2.7" d="M275 938.3L269.8 934.9"/>
<path stroke-width="1.5" d="M270.5 936.9L269 934.3"/>
<path stroke-width="2.8" d="M272 934.7L269 934.3"/>
<path stroke-width="2.7" d="M355 956L347.5 949.6"/>
<path stroke-width="1.5" d="M347.9 951.7L346.7 949"/>
<path stroke-width="2.8" d="M349.6 949.7L346.7 949"/>
<path stroke-width="2.7" d="M435 974.3L428.2 971.1"/>
<path stroke-width="1.5" d="M429.2 973L427.3 970.7"/>
<path stroke-width="2.8" d="M430.3 970.7L427.3 970.7"/>
<path stroke-width="2.7" d="M515 985L508.2 981.5"/>
<path stroke-width="1.5" d="M509.1 983.4L507.3 981"/>
<path stroke-width="2.8" d="M510.3 981.1L507.3 981"/>
<path stroke-width="2.7" d="M595 1006.7L588.2 1002.8"/>
<path stroke-width="1.5" d="M589 1004.8L587.3 1002.3"/>
<path stroke-width="2.8" d="M590.3 1002.5L587.3 1002.3"/>
<path stroke-width="2.7" d="M675 1002.3L668.6 1004.7"/>
<path stroke-width="2.8" d="M670.7 1005.3L667.7 1005"/>
<path stroke-width="1.5" d="M669.8 1002.8L667.7 1005"/>
<path stroke-width="2.7" d="M758.3 1004.3L754.9 1006.2"/>
<path stroke-width="2.8" d="M757 1006.5L754 1006.7"/>
<path stroke-width="1.5" d="M755.7 1004.2L754 1006.7"/>
<path stroke-width="2.7" d="M835 1004.3L816.7 1004"/>
<path fill="#000" stroke-width="1" d="M820.3 1006.4L815.7 1004L820.4 1001.8Z"/>
<path stroke-width="2.7" d="M915 1006L895.3 1005.7"/>
<path fill="#000" stroke-width="1" d="M899.3 1008.2L894.3 1005.7L899.4 1003.3Z"/>
<path stroke-width="2.7" d="M995 1006.7L971 1006.7"/>
<path fill="#000" stroke-width="1" d="M976.1 1009.7L970 1006.7L976.1 1003.7Z"/>
<path stroke-width="2.7" d="M1075 1007.7L1054.3 1007.3"/>
<path fill="#000" stroke-width="1" d="M1058.5 1010L1053.3 1007.3L1058.6 1004.8Z"/>
<path stroke-width="2.7" d="M1154.5 1008.3L1133.7 1008.3"/>
<path fill="#000" stroke-width="1" d="M1138 1010.9L1132.7 1008.3L1138 1005.7Z"/>
</g>
<path d="M194.5 179.5H1154.5V1055.5H194.5ZM221.5 179.5v6M221.5 1055.5v-6.3M247.9 179.5v6M247.9 1055.5v-6.3M274.4 179.5v6M274.4 1055.5v-6.3M300.8 179.5v6M300.8 1055.5v-6.3M327.2 179.5v6M327.2 1055.5v-6.3M353.7 179.5v6M353.7 1055.5v-6.3M380.1 179.5v6M380.1 1055.5v-6.3M406.5 179.5v6M406.5 1055.5v-6.3M433 179.5v6M433 1055.5v-6.3M459.4 179.5v12.5M459.4 1055.5v-12.5M485.8 179.5v6M485.8 1055.5v-6.3M512.3 179.5v6M512.3 1055.5v-6.3M538.7 179.5v6M538.7 1055.5v-6.3M565.1 179.5v6M565.1 1055.5v-6.3M591.6 179.5v6M591.6 1055.5v-6.3M618 179.5v6M618 1055.5v-6.3M644.4 179.5v6M644.4 1055.5v-6.3M670.9 179.5v6M670.9 1055.5v-6.3M697.3 179.5v6M697.3 1055.5v-6.3M723.8 179.5v12.5M723.8 1055.5v-12.5M750.2 179.5v6M750.2 1055.5v-6.3M776.6 179.5v6M776.6 1055.5v-6.3M803.1 179.5v6M803.1 1055.5v-6.3M829.5 179.5v6M829.5 1055.5v-6.3M855.9 179.5v6M855.9 1055.5v-6.3M882.4 179.5v6M882.4 1055.5v-6.3M908.8 179.5v6M908.8 1055.5v-6.3M935.2 179.5v6M935.2 1055.5v-6.3M961.7 179.5v6M961.7 1055.5v-6.3M988.1 179.5v12.5M988.1 1055.5v-12.5M1014.5 179.5v6M1014.5 1055.5v-6.3M1041 179.5v6M1041 1055.5v-6.3M1067.4 179.5v6M1067.4 1055.5v-6.3M1093.8 179.5v6M1093.8 1055.5v-6.3M1120.3 179.5v6M1120.3 1055.5v-6.3M1146.7 179.5v6M1146.7 1055.5v-6.3M194.5 191.5h6.6M1154.5 191.5h-6.6M194.5 203.3h6.6M1154.5 203.3h-6.6M194.5 215.1h6.6M1154.5 215.1h-6.6M194.5 227h6.6M1154.5 227h-6.6M194.5 238.8h6.6M1154.5 238.8h-6.6M194.5 250.6h6.6M1154.5 250.6h-6.6M194.5 262.5h6.6M1154.5 262.5h-6.6M194.5 274.3h6.6M1154.5 274.3h-6.6M194.5 286.1h6.6M1154.5 286.1h-6.6M194.5 298h12.5M1154.5 298h-12.5M194.5 309.8h6.6M1154.5 309.8h-6.6M194.5 321.6h6.6M1154.5 321.6h-6.6M194.5 333.5h6.6M1154.5 333.5h-6.6M194.5 345.3h6.6M1154.5 345.3h-6.6M194.5 357.1h6.6M1154.5 357.1h-6.6M194.5 369h6.6M1154.5 369h-6.6M194.5 380.8h6.6M1154.5 380.8h-6.6M194.5 392.6h6.6M1154.5 392.6h-6.6M194.5 404.5h6.6M1154.5 404.5h-6.6M194.5 416.3h12.5M1154.5 416.3h-12.5M194.5 428.1h6.6M1154.5 428.1h-6.6M194.5 440h6.6M1154.5 440h-6.6M194.5 451.8h6.6M1154.5 451.8h-6.6M194.5 463.6h6.6M1154.5 463.6h-6.6M194.5 475.5h6.6M1154.5 475.5h-6.6M194.5 487.3h6.6M1154.5 487.3h-6.6M194.5 499.1h6.6M1154.5 499.1h-6.6M194.5 511h6.6M1154.5 511h-6.6M194.5 522.8h6.6M1154.5 522.8h-6.6M194.5 534.6h12.5M1154.5 534.6h-12.5M194.5 546.5h6.6M1154.5 546.5h-6.6M194.5 558.3h6.6M1154.5 558.3h-6.6M194.5 570.1h6.6M1154.5 570.1h-6.6M194.5 582h6.6M1154.5 582h-6.6M194.5 593.8h6.6M1154.5 593.8h-6.6M194.5 605.6h6.6M1154.5 605.6h-6.6M194.5 617.5h6.6M1154.5 617.5h-6.6M194.5 629.3h6.6M1154.5 629.3h-6.6M194.5 641.1h6.6M1154.5 641.1h-6.6M194.5 653h12.5M1154.5 653h-12.5M194.5 664.8h6.6M1154.5 664.8h-6.6M194.5 676.6h6.6M1154.5 676.6h-6.6M194.5 688.5h6.6M1154.5 688.5h-6.6M194.5 700.3h6.6M1154.5 700.3h-6.6M194.5 712.1h6.6M1154.5 712.1h-6.6M194.5 724h6.6M1154.5 724h-6.6M194.5 735.8h6.6M1154.5 735.8h-6.6M194.5 747.6h6.6M1154.5 747.6h-6.6M194.5 759.5h6.6M1154.5 759.5h-6.6M194.5 771.3h12.5M1154.5 771.3h-12.5M194.5 783.1h6.6M1154.5 783.1h-6.6M194.5 795h6.6M1154.5 795h-6.6M194.5 806.8h6.6M1154.5 806.8h-6.6M194.5 818.6h6.6M1154.5 818.6h-6.6M194.5 830.5h6.6M1154.5 830.5h-6.6M194.5 842.3h6.6M1154.5 842.3h-6.6M194.5 854.1h6.6M1154.5 854.1h-6.6M194.5 866h6.6M1154.5 866h-6.6M194.5 877.8h6.6M1154.5 877.8h-6.6M194.5 889.6h12.5M1154.5 889.6h-12.5M194.5 901.5h6.6M1154.5 901.5h-6.6M194.5 913.3h6.6M1154.5 913.3h-6.6M194.5 925.1h6.6M1154.5 925.1h-6.6M194.5 937h6.6M1154.5 937h-6.6M194.5 948.8h6.6M1154.5 948.8h-6.6M194.5 960.6h6.6M1154.5 960.6h-6.6M194.5 972.5h6.6M1154.5 972.5h-6.6M194.5 984.3h6.6M1154.5 984.3h-6.6M194.5 996.1h6.6M1154.5 996.1h-6.6M194.5 1008h12.5M1154.5 1008h-12.5M194.5 1019.8h6.6M1154.5 1019.8h-6.6M194.5 1031.6h6.6M1154.5 1031.6h-6.6M194.5 1043.5h6.6M1154.5 1043.5h-6.6" fill="none" stroke="#000" stroke-width="1" shape-rendering="crispEdges"/>
<text transform="translate(141,185.1) scale(1.14,1)" font-size="17.5" fill="#111" xml:space="preserve" textLength="28.1" lengthAdjust="spacing">300</text>
<text transform="translate(141,303.4) scale(1.14,1)" font-size="17.5" fill="#111" xml:space="preserve" textLength="28.1" lengthAdjust="spacing">400</text>
<text transform="translate(141,421.7) scale(1.14,1)" font-size="17.5" fill="#111" xml:space="preserve" textLength="28.1" lengthAdjust="spacing">500</text>
<text transform="translate(141,540) scale(1.14,1)" font-size="17.5" fill="#111" xml:space="preserve" textLength="28.1" lengthAdjust="spacing">600</text>
<text transform="translate(141,658.4) scale(1.14,1)" font-size="17.5" fill="#111" xml:space="preserve" textLength="28.1" lengthAdjust="spacing">700</text>
<text transform="translate(141,776.7) scale(1.14,1)" font-size="17.5" fill="#111" xml:space="preserve" textLength="28.1" lengthAdjust="spacing">800</text>
<text transform="translate(141,895) scale(1.14,1)" font-size="17.5" fill="#111" xml:space="preserve" textLength="28.1" lengthAdjust="spacing">900</text>
<text transform="translate(130.5,1013.4) scale(1.14,1)" font-size="17.5" fill="#111" xml:space="preserve" textLength="37.3" lengthAdjust="spacing">1000</text>
<text transform="translate(190.3,1079.2) scale(1.14,1)" font-size="17.5" fill="#111" xml:space="preserve" textLength="8.3" lengthAdjust="spacing">0</text>
<text transform="translate(443.7,1079.2) scale(1.14,1)" font-size="17.5" fill="#111" xml:space="preserve" textLength="27.6" lengthAdjust="spacing">100</text>
<text transform="translate(708,1079.2) scale(1.14,1)" font-size="17.5" fill="#111" xml:space="preserve" textLength="27.6" lengthAdjust="spacing">200</text>
<text transform="translate(972.3,1079.2) scale(1.14,1)" font-size="17.5" fill="#111" xml:space="preserve" textLength="27.6" lengthAdjust="spacing">300</text>
<text transform="translate(196.3,1104.5) scale(0.95,1)" font-size="21.5" fill="#111" xml:space="preserve">N</text>
<text transform="translate(1142.8,1104.5) scale(1.0,1)" font-size="21.5" fill="#111" xml:space="preserve">S</text>
<text transform="translate(592.7,1104.3) scale(1.14,1)" font-size="22" fill="#111" xml:space="preserve" textLength="143.4" lengthAdjust="spacing">Distance (km)</text>
<text transform="translate(134.9,704) rotate(-90) scale(1.14,1)" font-size="22" fill="#111" textLength="150.9" lengthAdjust="spacing">Pressure (hPa)</text>
<text transform="translate(81.7,26) scale(1.14,1)" font-size="25.5" fill="#111" xml:space="preserve" textLength="328.9" lengthAdjust="spacing" class="th">Init: 00 UTC Thu 03 Dec 09</text>
<text transform="translate(1067.7,25.7) scale(1.14,1)" font-size="25.5" fill="#111" xml:space="preserve" textLength="55.3" lengthAdjust="spacing" class="th">Fcst:</text>
<text transform="translate(1184,25.7) scale(1.14,1)" font-size="25.5" fill="#111" xml:space="preserve" textLength="39" lengthAdjust="spacing" class="th">6 h</text>
<text transform="translate(531.7,51.7) scale(1.14,1)" font-size="25.5" fill="#111" xml:space="preserve" textLength="644.3" lengthAdjust="spacing" class="th">Valid: 06 UTC Thu 03 Dec 09 (01 EST Thu 03 Dec 09)</text>
<text transform="translate(88.3,76) scale(1.14,1)" font-size="23" fill="#111" xml:space="preserve" textLength="269.3" lengthAdjust="spacing" class="th">Moist Potential Vorticity</text>
<text transform="translate(88.3,101.7) scale(1.14,1)" font-size="23" fill="#4c4c4c" xml:space="preserve" textLength="544.7" lengthAdjust="spacing" class="th">Saturation Equivalent Potential Temperature (K)</text>
<text transform="translate(88.3,126) scale(1.14,1)" font-size="23" fill="#111" xml:space="preserve" textLength="211.4" lengthAdjust="spacing" class="th">Circulation Vectors</text>
<text transform="translate(340,1172.3) scale(1,1)" font-size="17.5" fill="#111" xml:space="preserve" textLength="79" lengthAdjust="spacingAndGlyphs">MAXIMUM</text>
<text transform="translate(427.3,1172.3) scale(1,1)" font-size="17.5" fill="#111" xml:space="preserve" textLength="72" lengthAdjust="spacingAndGlyphs">VECTOR:</text>
<text transform="translate(517.3,1172.3) scale(1.14,1)" font-size="17.5" fill="#111" xml:space="preserve" textLength="71.1" lengthAdjust="spacing">43.3 m s</text>
<text transform="translate(599.5,1166.3) scale(1.14,1)" font-size="12" fill="#111" xml:space="preserve" textLength="11.4" lengthAdjust="spacing">−1</text>
<text transform="translate(624,1172.3) scale(1,1)" font-size="17.5" fill="#111" xml:space="preserve" textLength="65.3" lengthAdjust="spacingAndGlyphs">(HORIZ)</text>
<text transform="translate(760,1172.3) scale(1.14,1)" font-size="17.5" fill="#111" xml:space="preserve" textLength="93.6" lengthAdjust="spacing">134.3 dPa s</text>
<text transform="translate(868,1166.3) scale(1.14,1)" font-size="12" fill="#111" xml:space="preserve" textLength="11.4" lengthAdjust="spacing">−1</text>
<text transform="translate(893.3,1172.3) scale(1,1)" font-size="17.5" fill="#111" xml:space="preserve" textLength="56" lengthAdjust="spacingAndGlyphs">(VERT)</text>
<text transform="translate(284,1190.7) scale(1,1)" font-size="17.5" fill="#5f5f5f" xml:space="preserve" textLength="95.3" lengthAdjust="spacingAndGlyphs">CONTOURS:</text>
<text transform="translate(399.3,1190.7) scale(1,1)" font-size="17.5" fill="#5f5f5f" xml:space="preserve" textLength="75.7" lengthAdjust="spacingAndGlyphs">UNITS=K</text>
<text transform="translate(492.7,1190.7) scale(1,1)" font-size="17.5" fill="#5f5f5f" xml:space="preserve" textLength="45.6" lengthAdjust="spacingAndGlyphs">LOW=</text>
<text transform="translate(557.7,1190.7) scale(1.14,1)" font-size="17.5" fill="#5f5f5f" xml:space="preserve" textLength="50.3" lengthAdjust="spacing">304.00</text>
<text transform="translate(667.7,1190.7) scale(1,1)" font-size="17.5" fill="#5f5f5f" xml:space="preserve" textLength="55.6" lengthAdjust="spacingAndGlyphs">HIGH=</text>
<text transform="translate(742.3,1190.7) scale(1.14,1)" font-size="17.5" fill="#5f5f5f" xml:space="preserve" textLength="50" lengthAdjust="spacing">400.00</text>
<text transform="translate(851.7,1190.7) scale(1,1)" font-size="17.5" fill="#5f5f5f" xml:space="preserve" textLength="94.3" lengthAdjust="spacingAndGlyphs">INTERVAL=</text>
<text transform="translate(973.3,1190.7) scale(1.14,1)" font-size="17.5" fill="#5f5f5f" xml:space="preserve" textLength="49.7" lengthAdjust="spacing">4.0000</text>
<rect x="1190.5" y="180" width="19.0" height="48.9" fill="#fff"/>
<rect x="1190.5" y="228.6" width="19.0" height="48.9" fill="#fff"/>
<rect x="1190.5" y="277.2" width="19.0" height="48.9" fill="#b8e4fc"/>
<rect x="1190.5" y="325.8" width="19.0" height="48.9" fill="#aad4fc"/>
<rect x="1190.5" y="374.4" width="19.0" height="48.9" fill="#a0c4fc"/>
<rect x="1190.5" y="423.1" width="19.0" height="48.9" fill="#98b2fc"/>
<rect x="1190.5" y="471.7" width="19.0" height="48.9" fill="#90a2fc"/>
<rect x="1190.5" y="520.3" width="19.0" height="48.9" fill="#8892fc"/>
<rect x="1190.5" y="568.9" width="19.0" height="48.9" fill="#8082fc"/>
<rect x="1190.5" y="617.5" width="19.0" height="48.9" fill="#7676fc"/>
<rect x="1190.5" y="666.1" width="19.0" height="48.9" fill="#6868fd"/>
<rect x="1190.5" y="714.7" width="19.0" height="48.9" fill="#5a5afd"/>
<rect x="1190.5" y="763.3" width="19.0" height="48.9" fill="#4c4cfe"/>
<rect x="1190.5" y="811.9" width="19.0" height="48.9" fill="#3e3efe"/>
<rect x="1190.5" y="860.6" width="19.0" height="48.9" fill="#2e2efe"/>
<rect x="1190.5" y="909.2" width="19.0" height="48.9" fill="#1e1eff"/>
<rect x="1190.5" y="957.8" width="19.0" height="48.9" fill="#0e0eff"/>
<rect x="1190.5" y="1006.4" width="19.0" height="48.9" fill="#0000ff"/>
<path d="M1190.5 180H1209.5V1055H1190.5ZM1190.5 228.6H1209.5M1190.5 277.2H1209.5M1190.5 325.8H1209.5M1190.5 374.4H1209.5M1190.5 423.1H1209.5M1190.5 471.7H1209.5M1190.5 520.3H1209.5M1190.5 568.9H1209.5M1190.5 617.5H1209.5M1190.5 666.1H1209.5M1190.5 714.7H1209.5M1190.5 763.3H1209.5M1190.5 811.9H1209.5M1190.5 860.6H1209.5M1190.5 909.2H1209.5M1190.5 957.8H1209.5M1190.5 1006.4H1209.5" fill="none" stroke="#000" stroke-width="1" shape-rendering="crispEdges"/>
<text transform="translate(1219.5,185.8) scale(1.14,1)" font-size="16.5" fill="#111" xml:space="preserve" textLength="28.9" lengthAdjust="spacing">PVU</text>
<text transform="translate(1219.5,234.4) scale(1.14,1)" font-size="16.5" fill="#111" xml:space="preserve" textLength="7.9" lengthAdjust="spacing">0</text>
<text transform="translate(1219.5,283) scale(1.14,1)" font-size="16.5" fill="#111" xml:space="preserve" textLength="32.5" lengthAdjust="spacing">−.25</text>
<text transform="translate(1219.5,331.6) scale(1.14,1)" font-size="16.5" fill="#111" xml:space="preserve" textLength="23.7" lengthAdjust="spacing">−.5</text>
<text transform="translate(1219.5,380.2) scale(1.14,1)" font-size="16.5" fill="#111" xml:space="preserve" textLength="32.5" lengthAdjust="spacing">−.75</text>
<text transform="translate(1219.5,428.9) scale(1.14,1)" font-size="16.5" fill="#111" xml:space="preserve" textLength="18.9" lengthAdjust="spacing">−1</text>
<text transform="translate(1219.5,477.5) scale(1.14,1)" font-size="16.5" fill="#111" xml:space="preserve" textLength="41.2" lengthAdjust="spacing">−1.25</text>
<text transform="translate(1219.5,526.1) scale(1.14,1)" font-size="16.5" fill="#111" xml:space="preserve" textLength="32.5" lengthAdjust="spacing">−1.5</text>
<text transform="translate(1219.5,574.7) scale(1.14,1)" font-size="16.5" fill="#111" xml:space="preserve" textLength="41.2" lengthAdjust="spacing">−1.75</text>
<text transform="translate(1219.5,623.3) scale(1.14,1)" font-size="16.5" fill="#111" xml:space="preserve" textLength="18.9" lengthAdjust="spacing">−2</text>
<text transform="translate(1219.5,671.9) scale(1.14,1)" font-size="16.5" fill="#111" xml:space="preserve" textLength="41.2" lengthAdjust="spacing">−2.25</text>
<text transform="translate(1219.5,720.5) scale(1.14,1)" font-size="16.5" fill="#111" xml:space="preserve" textLength="32.5" lengthAdjust="spacing">−2.5</text>
<text transform="translate(1219.5,769.1) scale(1.14,1)" font-size="16.5" fill="#111" xml:space="preserve" textLength="41.2" lengthAdjust="spacing">−2.75</text>
<text transform="translate(1219.5,817.7) scale(1.14,1)" font-size="16.5" fill="#111" xml:space="preserve" textLength="18.9" lengthAdjust="spacing">−3</text>
<text transform="translate(1219.5,866.4) scale(1.14,1)" font-size="16.5" fill="#111" xml:space="preserve" textLength="41.2" lengthAdjust="spacing">−3.25</text>
<text transform="translate(1219.5,915) scale(1.14,1)" font-size="16.5" fill="#111" xml:space="preserve" textLength="32.5" lengthAdjust="spacing">−3.5</text>
<text transform="translate(1219.5,963.6) scale(1.14,1)" font-size="16.5" fill="#111" xml:space="preserve" textLength="41.2" lengthAdjust="spacing">−3.75</text>
<text transform="translate(1219.5,1012.2) scale(1.14,1)" font-size="16.5" fill="#111" xml:space="preserve" textLength="18.9" lengthAdjust="spacing">−4</text>
<g fill="none" stroke="#000" stroke-width="2.6"><path d="M1233.5 1098.5V1166H1185"/><path stroke-width="2.3" d="M1226 1113.5L1233.5 1098L1241 1113.5M1195 1160.3L1184.3 1166L1195 1171.7"/></g>
</svg></body></html>
